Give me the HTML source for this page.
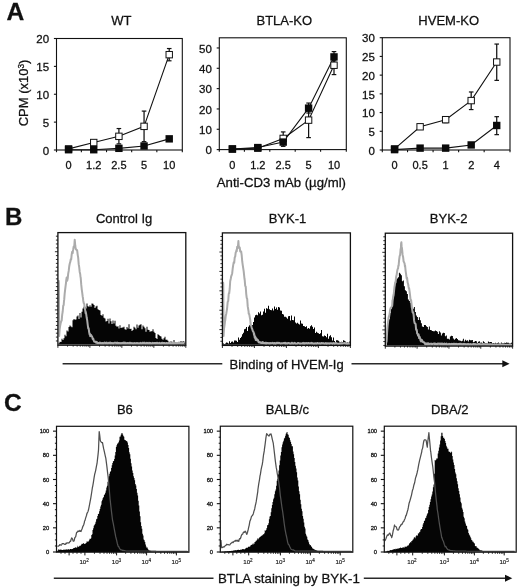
<!DOCTYPE html>
<html><head><meta charset="utf-8"><style>
html,body{margin:0;padding:0;background:#fff;}
svg{display:block;font-family:"Liberation Sans", sans-serif;filter:blur(0.3px);}
text{stroke:#111;stroke-width:0.28px;}
</style></head><body>
<svg width="520" height="588" viewBox="0 0 520 588">
<rect width="520" height="588" fill="#fff"/>
<rect x="56.5" y="38.5" width="125.8" height="111.5" fill="none" stroke="#111" stroke-width="1.1"/>
<line x1="53.9" y1="150" x2="56.5" y2="150" stroke="#111" stroke-width="1.1"/>
<text x="49.1" y="154.7" font-size="11.5" text-anchor="end" font-weight="normal" fill="#111" >0</text>
<line x1="53.9" y1="122.12" x2="56.5" y2="122.12" stroke="#111" stroke-width="1.1"/>
<text x="49.1" y="126.83" font-size="11.5" text-anchor="end" font-weight="normal" fill="#111" >5</text>
<line x1="53.9" y1="94.25" x2="56.5" y2="94.25" stroke="#111" stroke-width="1.1"/>
<text x="49.1" y="98.95" font-size="11.5" text-anchor="end" font-weight="normal" fill="#111" >10</text>
<line x1="53.9" y1="66.38" x2="56.5" y2="66.38" stroke="#111" stroke-width="1.1"/>
<text x="49.1" y="71.08" font-size="11.5" text-anchor="end" font-weight="normal" fill="#111" >15</text>
<line x1="53.9" y1="38.5" x2="56.5" y2="38.5" stroke="#111" stroke-width="1.1"/>
<text x="49.1" y="43.2" font-size="11.5" text-anchor="end" font-weight="normal" fill="#111" >20</text>
<line x1="56.5" y1="150" x2="56.5" y2="152.2" stroke="#111" stroke-width="1.1"/>
<line x1="81.36" y1="150" x2="81.36" y2="152.2" stroke="#111" stroke-width="1.1"/>
<line x1="106.52" y1="150" x2="106.52" y2="152.2" stroke="#111" stroke-width="1.1"/>
<line x1="131.68" y1="150" x2="131.68" y2="152.2" stroke="#111" stroke-width="1.1"/>
<line x1="156.84" y1="150" x2="156.84" y2="152.2" stroke="#111" stroke-width="1.1"/>
<line x1="182.3" y1="150" x2="182.3" y2="152.2" stroke="#111" stroke-width="1.1"/>
<text x="68.58" y="168.5" font-size="11" text-anchor="middle" font-weight="normal" fill="#111" >0</text>
<text x="93.74" y="168.5" font-size="11" text-anchor="middle" font-weight="normal" fill="#111" >1.2</text>
<text x="118.9" y="168.5" font-size="11" text-anchor="middle" font-weight="normal" fill="#111" >2.5</text>
<text x="144.06" y="168.5" font-size="11" text-anchor="middle" font-weight="normal" fill="#111" >5</text>
<text x="169.22" y="168.5" font-size="11" text-anchor="middle" font-weight="normal" fill="#111" >10</text>
<line x1="118.9" y1="143.87" x2="118.9" y2="128.54" stroke="#111" stroke-width="1.25"/>
<line x1="116.6" y1="128.54" x2="121.2" y2="128.54" stroke="#111" stroke-width="1.2"/>
<line x1="116.6" y1="143.87" x2="121.2" y2="143.87" stroke="#111" stroke-width="1.2"/>
<line x1="144.06" y1="141.64" x2="144.06" y2="111.09" stroke="#111" stroke-width="1.25"/>
<line x1="141.76" y1="111.09" x2="146.36" y2="111.09" stroke="#111" stroke-width="1.2"/>
<line x1="141.76" y1="141.64" x2="146.36" y2="141.64" stroke="#111" stroke-width="1.2"/>
<line x1="169.22" y1="60.8" x2="169.22" y2="48.53" stroke="#111" stroke-width="1.25"/>
<line x1="166.92" y1="48.53" x2="171.52" y2="48.53" stroke="#111" stroke-width="1.2"/>
<line x1="166.92" y1="60.8" x2="171.52" y2="60.8" stroke="#111" stroke-width="1.2"/>
<polyline points="68.58,148.88 93.74,142.53 118.9,136.34 144.06,126.36 169.22,54.67" fill="none" stroke="#111" stroke-width="1.1"/>
<polyline points="68.58,149.72 93.74,149.72 118.9,148.33 144.06,145.99 169.22,138.85" fill="none" stroke="#111" stroke-width="1.1"/>
<rect x="65.38" y="145.69" width="6.4" height="6.4" fill="#fff" stroke="#111" stroke-width="1"/>
<rect x="90.54" y="139.33" width="6.4" height="6.4" fill="#fff" stroke="#111" stroke-width="1"/>
<rect x="115.7" y="133.14" width="6.4" height="6.4" fill="#fff" stroke="#111" stroke-width="1"/>
<rect x="140.86" y="123.16" width="6.4" height="6.4" fill="#fff" stroke="#111" stroke-width="1"/>
<rect x="166.02" y="51.47" width="6.4" height="6.4" fill="#fff" stroke="#111" stroke-width="1"/>
<rect x="64.88" y="146.02" width="7.4" height="7.4" fill="#0a0a0a"/>
<rect x="90.04" y="146.02" width="7.4" height="7.4" fill="#0a0a0a"/>
<rect x="115.2" y="144.63" width="7.4" height="7.4" fill="#0a0a0a"/>
<rect x="140.36" y="142.29" width="7.4" height="7.4" fill="#0a0a0a"/>
<rect x="165.52" y="135.15" width="7.4" height="7.4" fill="#0a0a0a"/>
<text x="121.4" y="24.9" font-size="13" text-anchor="middle" font-weight="normal" fill="#111" >WT</text>
<rect x="219.3" y="37.8" width="127" height="111.8" fill="none" stroke="#111" stroke-width="1.1"/>
<line x1="216.7" y1="149.6" x2="219.3" y2="149.6" stroke="#111" stroke-width="1.1"/>
<text x="211.9" y="154.3" font-size="11.5" text-anchor="end" font-weight="normal" fill="#111" >0</text>
<line x1="216.7" y1="129.27" x2="219.3" y2="129.27" stroke="#111" stroke-width="1.1"/>
<text x="211.9" y="133.97" font-size="11.5" text-anchor="end" font-weight="normal" fill="#111" >10</text>
<line x1="216.7" y1="108.95" x2="219.3" y2="108.95" stroke="#111" stroke-width="1.1"/>
<text x="211.9" y="113.65" font-size="11.5" text-anchor="end" font-weight="normal" fill="#111" >20</text>
<line x1="216.7" y1="88.62" x2="219.3" y2="88.62" stroke="#111" stroke-width="1.1"/>
<text x="211.9" y="93.32" font-size="11.5" text-anchor="end" font-weight="normal" fill="#111" >30</text>
<line x1="216.7" y1="68.29" x2="219.3" y2="68.29" stroke="#111" stroke-width="1.1"/>
<text x="211.9" y="72.99" font-size="11.5" text-anchor="end" font-weight="normal" fill="#111" >40</text>
<line x1="216.7" y1="47.96" x2="219.3" y2="47.96" stroke="#111" stroke-width="1.1"/>
<text x="211.9" y="52.66" font-size="11.5" text-anchor="end" font-weight="normal" fill="#111" >50</text>
<line x1="219.3" y1="149.6" x2="219.3" y2="151.8" stroke="#111" stroke-width="1.1"/>
<line x1="244.4" y1="149.6" x2="244.4" y2="151.8" stroke="#111" stroke-width="1.1"/>
<line x1="269.8" y1="149.6" x2="269.8" y2="151.8" stroke="#111" stroke-width="1.1"/>
<line x1="295.2" y1="149.6" x2="295.2" y2="151.8" stroke="#111" stroke-width="1.1"/>
<line x1="320.6" y1="149.6" x2="320.6" y2="151.8" stroke="#111" stroke-width="1.1"/>
<line x1="346.3" y1="149.6" x2="346.3" y2="151.8" stroke="#111" stroke-width="1.1"/>
<text x="232.4" y="168.5" font-size="11" text-anchor="middle" font-weight="normal" fill="#111" >0</text>
<text x="257.8" y="168.5" font-size="11" text-anchor="middle" font-weight="normal" fill="#111" >1.2</text>
<text x="283.2" y="168.5" font-size="11" text-anchor="middle" font-weight="normal" fill="#111" >2.5</text>
<text x="308.6" y="168.5" font-size="11" text-anchor="middle" font-weight="normal" fill="#111" >5</text>
<text x="334" y="168.5" font-size="11" text-anchor="middle" font-weight="normal" fill="#111" >10</text>
<line x1="283.2" y1="144.52" x2="283.2" y2="131.92" stroke="#111" stroke-width="1.25"/>
<line x1="280.9" y1="131.92" x2="285.5" y2="131.92" stroke="#111" stroke-width="1.2"/>
<line x1="280.9" y1="144.52" x2="285.5" y2="144.52" stroke="#111" stroke-width="1.2"/>
<line x1="308.6" y1="137.61" x2="308.6" y2="110.98" stroke="#111" stroke-width="1.25"/>
<line x1="306.3" y1="110.98" x2="310.9" y2="110.98" stroke="#111" stroke-width="1.2"/>
<line x1="306.3" y1="137.61" x2="310.9" y2="137.61" stroke="#111" stroke-width="1.2"/>
<line x1="334" y1="74.59" x2="334" y2="60.16" stroke="#111" stroke-width="1.25"/>
<line x1="331.7" y1="60.16" x2="336.3" y2="60.16" stroke="#111" stroke-width="1.2"/>
<line x1="331.7" y1="74.59" x2="336.3" y2="74.59" stroke="#111" stroke-width="1.2"/>
<line x1="283.2" y1="146.35" x2="283.2" y2="139.44" stroke="#111" stroke-width="1.25"/>
<line x1="280.9" y1="139.44" x2="285.5" y2="139.44" stroke="#111" stroke-width="1.2"/>
<line x1="280.9" y1="146.35" x2="285.5" y2="146.35" stroke="#111" stroke-width="1.2"/>
<line x1="308.6" y1="113.01" x2="308.6" y2="103.05" stroke="#111" stroke-width="1.25"/>
<line x1="306.3" y1="103.05" x2="310.9" y2="103.05" stroke="#111" stroke-width="1.2"/>
<line x1="306.3" y1="113.01" x2="310.9" y2="113.01" stroke="#111" stroke-width="1.2"/>
<line x1="334" y1="62.19" x2="334" y2="51.62" stroke="#111" stroke-width="1.25"/>
<line x1="331.7" y1="51.62" x2="336.3" y2="51.62" stroke="#111" stroke-width="1.2"/>
<line x1="331.7" y1="62.19" x2="336.3" y2="62.19" stroke="#111" stroke-width="1.2"/>
<polyline points="232.4,148.99 257.8,148.18 283.2,138.42 308.6,120.13 334,65.24" fill="none" stroke="#111" stroke-width="1.1"/>
<polyline points="232.4,148.99 257.8,147.57 283.2,142.08 308.6,108.13 334,56.91" fill="none" stroke="#111" stroke-width="1.1"/>
<rect x="229.2" y="145.79" width="6.4" height="6.4" fill="#fff" stroke="#111" stroke-width="1"/>
<rect x="254.6" y="144.98" width="6.4" height="6.4" fill="#fff" stroke="#111" stroke-width="1"/>
<rect x="280" y="135.22" width="6.4" height="6.4" fill="#fff" stroke="#111" stroke-width="1"/>
<rect x="305.4" y="116.93" width="6.4" height="6.4" fill="#fff" stroke="#111" stroke-width="1"/>
<rect x="330.8" y="62.04" width="6.4" height="6.4" fill="#fff" stroke="#111" stroke-width="1"/>
<rect x="228.7" y="145.29" width="7.4" height="7.4" fill="#0a0a0a"/>
<rect x="254.1" y="143.87" width="7.4" height="7.4" fill="#0a0a0a"/>
<rect x="279.5" y="138.38" width="7.4" height="7.4" fill="#0a0a0a"/>
<rect x="304.9" y="104.43" width="7.4" height="7.4" fill="#0a0a0a"/>
<rect x="330.3" y="53.21" width="7.4" height="7.4" fill="#0a0a0a"/>
<text x="284.3" y="24.9" font-size="13" text-anchor="middle" font-weight="normal" fill="#111" >BTLA-KO</text>
<rect x="382.3" y="37.7" width="127.7" height="112.3" fill="none" stroke="#111" stroke-width="1.1"/>
<line x1="379.7" y1="150" x2="382.3" y2="150" stroke="#111" stroke-width="1.1"/>
<text x="374.9" y="154.7" font-size="11.5" text-anchor="end" font-weight="normal" fill="#111" >0</text>
<line x1="379.7" y1="131.28" x2="382.3" y2="131.28" stroke="#111" stroke-width="1.1"/>
<text x="374.9" y="135.98" font-size="11.5" text-anchor="end" font-weight="normal" fill="#111" >5</text>
<line x1="379.7" y1="112.57" x2="382.3" y2="112.57" stroke="#111" stroke-width="1.1"/>
<text x="374.9" y="117.27" font-size="11.5" text-anchor="end" font-weight="normal" fill="#111" >10</text>
<line x1="379.7" y1="93.85" x2="382.3" y2="93.85" stroke="#111" stroke-width="1.1"/>
<text x="374.9" y="98.55" font-size="11.5" text-anchor="end" font-weight="normal" fill="#111" >15</text>
<line x1="379.7" y1="75.13" x2="382.3" y2="75.13" stroke="#111" stroke-width="1.1"/>
<text x="374.9" y="79.83" font-size="11.5" text-anchor="end" font-weight="normal" fill="#111" >20</text>
<line x1="379.7" y1="56.42" x2="382.3" y2="56.42" stroke="#111" stroke-width="1.1"/>
<text x="374.9" y="61.12" font-size="11.5" text-anchor="end" font-weight="normal" fill="#111" >25</text>
<line x1="379.7" y1="37.7" x2="382.3" y2="37.7" stroke="#111" stroke-width="1.1"/>
<text x="374.9" y="42.4" font-size="11.5" text-anchor="end" font-weight="normal" fill="#111" >30</text>
<line x1="382.3" y1="150" x2="382.3" y2="152.2" stroke="#111" stroke-width="1.1"/>
<line x1="407.54" y1="150" x2="407.54" y2="152.2" stroke="#111" stroke-width="1.1"/>
<line x1="433.08" y1="150" x2="433.08" y2="152.2" stroke="#111" stroke-width="1.1"/>
<line x1="458.62" y1="150" x2="458.62" y2="152.2" stroke="#111" stroke-width="1.1"/>
<line x1="484.16" y1="150" x2="484.16" y2="152.2" stroke="#111" stroke-width="1.1"/>
<line x1="510" y1="150" x2="510" y2="152.2" stroke="#111" stroke-width="1.1"/>
<text x="394.57" y="168.5" font-size="11" text-anchor="middle" font-weight="normal" fill="#111" >0</text>
<text x="420.11" y="168.5" font-size="11" text-anchor="middle" font-weight="normal" fill="#111" >0.5</text>
<text x="445.65" y="168.5" font-size="11" text-anchor="middle" font-weight="normal" fill="#111" >1</text>
<text x="471.19" y="168.5" font-size="11" text-anchor="middle" font-weight="normal" fill="#111" >2</text>
<text x="496.73" y="168.5" font-size="11" text-anchor="middle" font-weight="normal" fill="#111" >4</text>
<line x1="445.65" y1="122.67" x2="445.65" y2="116.68" stroke="#111" stroke-width="1.25"/>
<line x1="443.35" y1="116.68" x2="447.95" y2="116.68" stroke="#111" stroke-width="1.2"/>
<line x1="443.35" y1="122.67" x2="447.95" y2="122.67" stroke="#111" stroke-width="1.2"/>
<line x1="471.19" y1="109.57" x2="471.19" y2="91.98" stroke="#111" stroke-width="1.25"/>
<line x1="468.89" y1="91.98" x2="473.49" y2="91.98" stroke="#111" stroke-width="1.2"/>
<line x1="468.89" y1="109.57" x2="473.49" y2="109.57" stroke="#111" stroke-width="1.2"/>
<line x1="496.73" y1="80.37" x2="496.73" y2="44.06" stroke="#111" stroke-width="1.25"/>
<line x1="494.43" y1="44.06" x2="499.03" y2="44.06" stroke="#111" stroke-width="1.2"/>
<line x1="494.43" y1="80.37" x2="499.03" y2="80.37" stroke="#111" stroke-width="1.2"/>
<line x1="496.73" y1="134.65" x2="496.73" y2="116.68" stroke="#111" stroke-width="1.25"/>
<line x1="494.43" y1="116.68" x2="499.03" y2="116.68" stroke="#111" stroke-width="1.2"/>
<line x1="494.43" y1="134.65" x2="499.03" y2="134.65" stroke="#111" stroke-width="1.2"/>
<polyline points="394.57,148.88 420.11,126.79 445.65,119.68 471.19,100.59 496.73,62.03" fill="none" stroke="#111" stroke-width="1.1"/>
<polyline points="394.57,149.63 420.11,148.13 445.65,148.13 471.19,144.95 496.73,125.48" fill="none" stroke="#111" stroke-width="1.1"/>
<rect x="391.37" y="145.68" width="6.4" height="6.4" fill="#fff" stroke="#111" stroke-width="1"/>
<rect x="416.91" y="123.59" width="6.4" height="6.4" fill="#fff" stroke="#111" stroke-width="1"/>
<rect x="442.45" y="116.48" width="6.4" height="6.4" fill="#fff" stroke="#111" stroke-width="1"/>
<rect x="467.99" y="97.39" width="6.4" height="6.4" fill="#fff" stroke="#111" stroke-width="1"/>
<rect x="493.53" y="58.83" width="6.4" height="6.4" fill="#fff" stroke="#111" stroke-width="1"/>
<rect x="390.87" y="145.93" width="7.4" height="7.4" fill="#0a0a0a"/>
<rect x="416.41" y="144.43" width="7.4" height="7.4" fill="#0a0a0a"/>
<rect x="441.95" y="144.43" width="7.4" height="7.4" fill="#0a0a0a"/>
<rect x="467.49" y="141.25" width="7.4" height="7.4" fill="#0a0a0a"/>
<rect x="493.03" y="121.78" width="7.4" height="7.4" fill="#0a0a0a"/>
<text x="448.7" y="24.9" font-size="13" text-anchor="middle" font-weight="normal" fill="#111" >HVEM-KO</text>
<text transform="translate(27.5,93) rotate(-90)" font-size="13" text-anchor="middle" fill="#111">CPM (x10<tspan font-size="8.2" dy="-3.6">3</tspan><tspan dy="3.6">)</tspan></text>
<text x="281.4" y="186.6" font-size="13.2" text-anchor="middle" font-weight="normal" fill="#111" >Anti-CD3 mAb (µg/ml)</text>
<text x="6.4" y="19.7" font-size="24.6" text-anchor="start" font-weight="bold" fill="#111" >A</text>
<text x="5" y="225.2" font-size="24" text-anchor="start" font-weight="bold" fill="#111" >B</text>
<text x="4" y="411.3" font-size="24.5" text-anchor="start" font-weight="bold" fill="#111" >C</text>
<path d="M58.5,344.6 L58.5,343.27 L59.5,343.27 L59.5,341.73 L60.5,341.73 L60.5,342.1 L61.5,342.1 L61.5,338.71 L62.5,338.71 L62.5,340.07 L63.5,340.07 L63.5,338.25 L64.5,338.25 L64.5,334.84 L65.5,334.84 L65.5,336.24 L66.5,336.24 L66.5,330.52 L67.5,330.52 L67.5,331.44 L68.5,331.44 L68.5,326.96 L69.5,326.96 L69.5,325.62 L70.5,325.62 L70.5,326.59 L71.5,326.59 L71.5,327.14 L72.5,327.14 L72.5,320.35 L73.5,320.35 L73.5,319.04 L74.5,319.04 L74.5,319.66 L75.5,319.66 L75.5,319.44 L76.5,319.44 L76.5,316.48 L77.5,316.48 L77.5,315.44 L78.5,315.44 L78.5,319.08 L79.5,319.08 L79.5,312.94 L80.5,312.94 L80.5,317.52 L81.5,317.52 L81.5,311.77 L82.5,311.77 L82.5,308.5 L83.5,308.5 L83.5,306.75 L84.5,306.75 L84.5,306.76 L85.5,306.76 L85.5,308.52 L86.5,308.52 L86.5,303.45 L87.5,303.45 L87.5,306.14 L88.5,306.14 L88.5,306.77 L89.5,306.77 L89.5,305.33 L90.5,305.33 L90.5,306.75 L91.5,306.75 L91.5,303.47 L92.5,303.47 L92.5,303.63 L93.5,303.63 L93.5,304.88 L94.5,304.88 L94.5,308.04 L95.5,308.04 L95.5,306.45 L96.5,306.45 L96.5,305.83 L97.5,305.83 L97.5,309.18 L98.5,309.18 L98.5,309.89 L99.5,309.89 L99.5,310.4 L100.5,310.4 L100.5,315.11 L101.5,315.11 L101.5,315.87 L102.5,315.87 L102.5,314.14 L103.5,314.14 L103.5,317.63 L104.5,317.63 L104.5,318.58 L105.5,318.58 L105.5,321.48 L106.5,321.48 L106.5,321.1 L107.5,321.1 L107.5,318.72 L108.5,318.72 L108.5,323.5 L109.5,323.5 L109.5,318.42 L110.5,318.42 L110.5,321.26 L111.5,321.26 L111.5,324 L112.5,324 L112.5,320.57 L113.5,320.57 L113.5,323.59 L114.5,323.59 L114.5,320.77 L115.5,320.77 L115.5,325.79 L116.5,325.79 L116.5,326.84 L117.5,326.84 L117.5,326.15 L118.5,326.15 L118.5,328.43 L119.5,328.43 L119.5,325.37 L120.5,325.37 L120.5,328 L121.5,328 L121.5,327.47 L122.5,327.47 L122.5,327.46 L123.5,327.46 L123.5,326.75 L124.5,326.75 L124.5,329.18 L125.5,329.18 L125.5,329.87 L126.5,329.87 L126.5,327.11 L127.5,327.11 L127.5,328.39 L128.5,328.39 L128.5,324.19 L129.5,324.19 L129.5,328.88 L130.5,328.88 L130.5,328.71 L131.5,328.71 L131.5,330.89 L132.5,330.89 L132.5,330.07 L133.5,330.07 L133.5,326.8 L134.5,326.8 L134.5,327.67 L135.5,327.67 L135.5,329.31 L136.5,329.31 L136.5,324.42 L137.5,324.42 L137.5,327.7 L138.5,327.7 L138.5,325.45 L139.5,325.45 L139.5,324.87 L140.5,324.87 L140.5,324.17 L141.5,324.17 L141.5,329.36 L142.5,329.36 L142.5,325.48 L143.5,325.48 L143.5,326.83 L144.5,326.83 L144.5,328.26 L145.5,328.26 L145.5,331.65 L146.5,331.65 L146.5,326.74 L147.5,326.74 L147.5,329.7 L148.5,329.7 L148.5,330.06 L149.5,330.06 L149.5,331.78 L150.5,331.78 L150.5,331.13 L151.5,331.13 L151.5,331.29 L152.5,331.29 L152.5,329.21 L153.5,329.21 L153.5,331.78 L154.5,331.78 L154.5,333.03 L155.5,333.03 L155.5,337.92 L156.5,337.92 L156.5,339.06 L157.5,339.06 L157.5,334.34 L158.5,334.34 L158.5,335.05 L159.5,335.05 L159.5,335.97 L160.5,335.97 L160.5,336.49 L161.5,336.49 L161.5,338.66 L162.5,338.66 L162.5,339.64 L163.5,339.64 L163.5,338.15 L164.5,338.15 L164.5,336.75 L165.5,336.75 L165.5,339.69 L166.5,339.69 L166.5,339.73 L167.5,339.73 L167.5,340.86 L168.5,340.86 L168.5,342.52 L169.5,342.52 L169.5,341.77 L170.5,341.77 L170.5,341.39 L171.5,341.39 L171.5,341.81 L172.5,341.81 L172.5,342.07 L173.5,342.07 L173.5,339.96 L174.5,339.96 L174.5,342.85 L175.5,342.85 L175.5,342.58 L176.5,342.58 L176.5,342.89 L177.5,342.89 L177.5,342.76 L178.5,342.76 L178.5,341.76 L179.5,341.76 L179.5,341.88 L180.5,341.88 L180.5,341.11 L181.5,341.11 L181.5,342.64 L182.5,342.64 L182.5,341.23 L183.5,341.23 L183.5,341.38 L184.5,341.38 L184.5,341.91 L185.2,341.91 L185.2,344.6 Z" fill="#050505"/>
<path d="M58.5,281.5 L58.7,280.9 L58.9,283 L59.2,336 L59.6,330 L59.7,328.91 L60.2,325.5 L60.7,323.02 L61.2,321.37 L61.7,320.5 L62.2,314.67 L62.7,311.48 L63.2,305.88 L63.7,305.04 L64,301 L64.2,299.66 L64.7,293.29 L65.2,289.21 L65.7,285.09 L66,283 L66.2,280.7 L66.5,278.6 L66.7,277.56 L67.1,280 L67.2,280.83 L67.7,278.6 L68.2,273.68 L68.7,270.94 L69.2,266.53 L69.7,263.78 L70.2,261.93 L70.3,262 L70.7,259.28 L71.2,259.32 L71.7,254.42 L72.2,251.65 L72.7,253.14 L73,250 L73.2,249.5 L73.7,246.43 L74.2,246.48 L74.3,246 L74.7,239.71 L74.8,240.5 L75.2,245.01 L75.3,246 L75.7,248.86 L76.2,249.57 L76.7,250.08 L77,250 L77.2,250.59 L77.7,254.87 L78.2,257.93 L78.7,264.2 L79.2,267.1 L79.7,271.94 L80.2,274 L80.5,277 L80.7,277.57 L81.2,284.13 L81.7,289.02 L82.2,292.69 L82.7,296.7 L83,298 L83.2,300.43 L83.7,303 L84.2,303.83 L84.7,307.88 L85.2,310.11 L85.6,313 L85.7,311.63 L86.2,314.22 L86.7,317.81 L87.2,320.31 L87.7,324.63 L88.2,328.27 L88.5,328 L88.7,328.59 L89.2,332.55 L89.7,334.75 L90,334 L90.2,336.19 L90.7,334.75 L91.2,335.1 L91.7,336.06 L92.2,336.86 L92.7,339 L93.2,338.49 L93.7,340.38 L94.2,341.59 L94.7,341.82 L95.2,341.46 L95.7,342.27 L96,342.3 L96.2,342.79 L96.7,341.82 L97.2,342.73 L97.7,343.14 L98.2,343.05 L98.7,343.08 L99.2,342.83 L99.7,342.59 L100,343 L100.2,343.31 L100.7,342.82 L101.2,343.32 L101.7,343.51 L102.2,342.9 L102.7,342.9 L103.2,343.48 L103.7,343.25 L104.2,342.67 L104.7,342.62 L105.2,342.65 L105.7,343.45 L106.2,343.34 L106.7,342.65 L107.2,343.37 L107.7,343.53 L108.2,343.19 L108.7,342.87 L109.2,343.08 L109.7,342.65 L110.2,342.53 L110.7,343.53 L111.2,343.2 L111.7,343.07 L112.2,343.49 L112.7,342.98 L113.2,343.43 L113.7,343.39 L114.2,342.75 L114.7,342.8 L115.2,342.84 L115.7,342.79 L116.2,343.15 L116.7,342.81 L117.2,342.98 L117.7,342.68 L118.2,343.48 L118.7,342.92 L119.2,343.02 L119.7,343.15 L120.2,343.48 L120.7,342.99 L121.2,343.5 L121.7,343.08 L122.2,343.11 L122.7,343.1 L123.2,342.59 L123.7,343.02 L124.2,342.76 L124.7,342.59 L125.2,343.39 L125.7,342.76 L126.2,343.07 L126.7,343.32 L127.2,343.15 L127.7,342.92 L128.2,343.12 L128.7,343.16 L129.2,343.39 L129.7,342.71 L130.2,343.17 L130.7,342.86 L131.2,342.89 L131.7,343.38 L132.2,343.12 L132.7,343.18 L133.2,343.37 L133.7,343.53 L134.2,343.06 L134.7,343.23 L135.2,343.13 L135.7,343.14 L136.2,343.32 L136.7,343.08 L137.2,343.16 L137.7,343.11 L138.2,343.57 L138.7,343.33 L139.2,343.5 L139.7,343.57 L140.2,342.91 L140.7,343.2 L141.2,343.57 L141.7,343.48 L142.2,342.8 L142.7,342.78 L143.2,343.1 L143.7,342.74 L144.2,342.91 L144.7,342.75 L145.2,343.32 L145.7,343.43 L146.2,343.54 L146.7,342.83 L147.2,343.37 L147.7,343.32 L148.2,342.83 L148.7,343.54 L149.2,343.62 L149.7,342.91 L150.2,343.61 L150.7,343.08 L151.2,343.17 L151.7,343.64 L152.2,343.5 L152.7,342.87 L153.2,343.12 L153.7,343.2 L154.2,343.04 L154.7,342.91 L155.2,343.02 L155.7,343.4 L156.2,342.75 L156.7,343.25 L157.2,343.15 L157.7,342.75 L158.2,343.05 L158.7,343.32 L159.2,343.22 L159.7,342.81 L160.2,343.66 L160.7,343.48 L161.2,343.65 L161.7,342.85 L162.2,343 L162.7,342.8 L163.2,343.48 L163.7,343.01 L164.2,342.89 L164.7,343.16 L165.2,343.6 L165.7,343.52 L166.2,343.01 L166.7,342.91 L167.2,343.62 L167.7,343.3 L168.2,343.42 L168.7,342.87 L169.2,342.84 L169.7,343.41 L170.2,343.18 L170.7,342.86 L171.2,343.64 L171.7,343.37 L172.2,343.52 L172.7,342.88 L173.2,343.58 L173.7,342.87 L174.2,343.58 L174.7,343.22 L175.2,343.12 L175.7,343.31 L176.2,343.65 L176.7,343.06 L177.2,342.94 L177.7,343.3 L178.2,343.04 L178.7,342.93 L179.2,342.98 L179.7,342.88 L180.2,343.02 L180.7,343.12 L181.2,343.11 L181.7,343.51 L182.2,343.1 L182.7,343.29 L183.2,343.01 L183.7,343.16 L184.2,342.88 L184.7,343.08" fill="none" stroke="#ababab" stroke-width="2.0" stroke-linejoin="round"/>
<path d="M223,344.8 L223,343.39 L224,343.39 L224,343.93 L225,343.93 L225,343.48 L226,343.48 L226,342.57 L227,342.57 L227,342.85 L228,342.85 L228,343.57 L229,343.57 L229,341.26 L230,341.26 L230,342.99 L231,342.99 L231,341.67 L232,341.67 L232,341.59 L233,341.59 L233,342.42 L234,342.42 L234,340.39 L235,340.39 L235,340.5 L236,340.5 L236,340.87 L237,340.87 L237,341.91 L238,341.91 L238,337.62 L239,337.62 L239,339.84 L240,339.84 L240,338.1 L241,338.1 L241,336.67 L242,336.67 L242,334.19 L243,334.19 L243,332.71 L244,332.71 L244,329.18 L245,329.18 L245,328.67 L246,328.67 L246,327.1 L247,327.1 L247,330.88 L248,330.88 L248,326.84 L249,326.84 L249,325.25 L250,325.25 L250,323.49 L251,323.49 L251,326.73 L252,326.73 L252,325.01 L253,325.01 L253,321.95 L254,321.95 L254,317.52 L255,317.52 L255,315.34 L256,315.34 L256,314.82 L257,314.82 L257,315.16 L258,315.16 L258,312.22 L259,312.22 L259,313.5 L260,313.5 L260,311.55 L261,311.55 L261,315.27 L262,315.27 L262,314.67 L263,314.67 L263,311.49 L264,311.49 L264,308.78 L265,308.78 L265,312.67 L266,312.67 L266,308.19 L267,308.19 L267,308.69 L268,308.69 L268,305.83 L269,305.83 L269,309.22 L270,309.22 L270,310.01 L271,310.01 L271,310.36 L272,310.36 L272,308.44 L273,308.44 L273,310.55 L274,310.55 L274,306.6 L275,306.6 L275,308.91 L276,308.91 L276,307.52 L277,307.52 L277,309.86 L278,309.86 L278,307.05 L279,307.05 L279,307.41 L280,307.41 L280,310.58 L281,310.58 L281,310.87 L282,310.87 L282,314.07 L283,314.07 L283,314.53 L284,314.53 L284,316.7 L285,316.7 L285,316.81 L286,316.81 L286,317.51 L287,317.51 L287,318.82 L288,318.82 L288,316.14 L289,316.14 L289,316.06 L290,316.06 L290,320.47 L291,320.47 L291,315.43 L292,315.43 L292,319.96 L293,319.96 L293,320.13 L294,320.13 L294,316.44 L295,316.44 L295,322.59 L296,322.59 L296,323.57 L297,323.57 L297,322.66 L298,322.66 L298,323.76 L299,323.76 L299,324.56 L300,324.56 L300,320.41 L301,320.41 L301,323.47 L302,323.47 L302,323.68 L303,323.68 L303,326.03 L304,326.03 L304,326.27 L305,326.27 L305,327.02 L306,327.02 L306,326.19 L307,326.19 L307,328.65 L308,328.65 L308,328.04 L309,328.04 L309,328.73 L310,328.73 L310,326.29 L311,326.29 L311,325.19 L312,325.19 L312,326.77 L313,326.77 L313,328.99 L314,328.99 L314,327.54 L315,327.54 L315,332.95 L316,332.95 L316,331.77 L317,331.77 L317,332.69 L318,332.69 L318,333.18 L319,333.18 L319,334.01 L320,334.01 L320,333.31 L321,333.31 L321,329.92 L322,329.92 L322,336.19 L323,336.19 L323,336.4 L324,336.4 L324,335.39 L325,335.39 L325,336.1 L326,336.1 L326,337.37 L327,337.37 L327,333.65 L328,333.65 L328,338.83 L329,338.83 L329,336.18 L330,336.18 L330,335.16 L331,335.16 L331,337.13 L332,337.13 L332,340.39 L333,340.39 L333,337.54 L334,337.54 L334,340.93 L335,340.93 L335,342.25 L336,342.25 L336,340.3 L337,340.3 L337,340.13 L338,340.13 L338,340.83 L339,340.83 L339,341.8 L340,341.8 L340,342.23 L341,342.23 L341,341.87 L342,341.87 L342,342.11 L343,342.11 L343,340.3 L344,340.3 L344,340.85 L345,340.85 L345,341.46 L346,341.46 L346,342.97 L347,342.97 L347,342 L348,342 L348,342.78 L349,342.78 L349,341.48 L349.8,341.48 L349.8,344.8 Z" fill="#050505"/>
<path d="M223,283.5 L223.2,282.74 L223.3,285 L223.6,336 L223.7,333.4 L224.1,327.6 L224.2,327.58 L224.7,324.11 L225.1,320.5 L225.2,320.61 L225.7,316.1 L226.2,314.03 L226.7,310.85 L226.9,309.8 L227.2,307.27 L227.7,301.87 L228.2,300.97 L228.7,294.2 L229,293 L229.2,293.27 L229.7,288.98 L230.2,281.19 L230.7,279 L231.2,276.26 L231.7,275.13 L232.2,273.15 L232.7,268.49 L233.2,265.2 L233.7,262.38 L234,262 L234.2,262.82 L234.7,257.48 L235.2,256.57 L235.7,252.41 L236.2,251.54 L236.5,250 L236.7,251.28 L237.2,246.66 L237.7,248.08 L238,246 L238.2,243.53 L238.4,241 L238.7,246.3 L238.8,246 L239.2,247.9 L239.7,247.38 L240.2,251.41 L240.7,251.13 L241,252 L241.2,251.64 L241.7,255.41 L242.2,261.22 L242.7,264.92 L243.2,268.18 L243.7,271.39 L244.2,276.06 L244.5,279 L244.7,279.85 L245.2,285.93 L245.7,286.55 L246.2,293.52 L246.7,297.85 L247.2,298.95 L247.7,306.15 L248.2,309.27 L248.6,311.6 L248.7,313.74 L249.2,313.93 L249.7,316.91 L250.2,319.64 L250.7,324.7 L251.2,325.71 L251.7,328 L252.2,328.96 L252.7,330.76 L253.2,331.67 L253.7,332.28 L254,335 L254.2,333.78 L254.7,337.64 L255.2,336.37 L255.7,339.9 L256.2,338.13 L256.7,339.27 L256.8,340.2 L257.2,340.46 L257.7,339.86 L258.2,340.67 L258.7,342.34 L259.2,342.38 L259.7,342.45 L260,342 L260.2,342.29 L260.7,342.89 L261.2,343.03 L261.7,342.49 L262.2,342.86 L262.7,342 L263.2,343.08 L263.7,342.83 L264.2,343.31 L264.7,343.29 L265,343.2 L265.2,342.97 L265.7,342.72 L266.2,343.66 L266.7,342.81 L267.2,343.18 L267.7,343.04 L268.2,343 L268.7,343.47 L269.2,343.72 L269.7,342.96 L270.2,343.38 L270.7,343.01 L271.2,343.28 L271.7,343.11 L272.2,342.88 L272.7,342.87 L273.2,342.92 L273.7,343.66 L274.2,343.23 L274.7,342.94 L275.2,343.66 L275.7,343.75 L276.2,343.19 L276.7,342.87 L277.2,342.92 L277.7,342.82 L278.2,343.08 L278.7,342.83 L279.2,342.98 L279.7,343 L280.2,343.33 L280.7,343.65 L281.2,343.51 L281.7,343.17 L282.2,343.17 L282.7,343.29 L283.2,343.14 L283.7,343.1 L284.2,342.82 L284.7,343.04 L285.2,343.75 L285.7,342.89 L286.2,343.28 L286.7,343.41 L287.2,343.65 L287.7,342.99 L288.2,343.05 L288.7,343.03 L289.2,343.18 L289.7,343.23 L290.2,343.75 L290.7,343.64 L291.2,343.67 L291.7,342.81 L292.2,342.83 L292.7,343.51 L293.2,343.7 L293.7,343.27 L294.2,343.39 L294.7,342.81 L295.2,343.2 L295.7,343.73 L296.2,343.63 L296.7,343.66 L297.2,343.78 L297.7,343.07 L298.2,342.93 L298.7,342.98 L299.2,343.34 L299.7,343.5 L300.2,343.76 L300.7,343.54 L301.2,343.47 L301.7,343.59 L302.2,343.29 L302.7,343.38 L303.2,342.89 L303.7,343.61 L304.2,343.08 L304.7,343.75 L305.2,343.48 L305.7,343.15 L306.2,342.98 L306.7,343.11 L307.2,343.48 L307.7,343.54 L308.2,342.98 L308.7,342.94 L309.2,343.38 L309.7,343.44 L310.2,343.25 L310.7,343.1 L311.2,343.46 L311.7,342.9 L312.2,343.18 L312.7,343.33 L313.2,343.81 L313.7,343.51 L314.2,343.74 L314.7,343.35 L315.2,343.13 L315.7,343.14 L316.2,343.82 L316.7,343.58 L317.2,343.2 L317.7,342.94 L318.2,343.39 L318.7,343.55 L319.2,343.32 L319.7,343.17 L320.2,343.55 L320.7,343.79 L321.2,343.14 L321.7,342.97 L322.2,343.25 L322.7,343.33 L323.2,343.58 L323.7,343.13 L324.2,343.68 L324.7,343.63 L325.2,343.42 L325.7,343.14 L326.2,343.85 L326.7,343.24 L327.2,343.71 L327.7,343.17 L328.2,343.17 L328.7,343.66 L329.2,343.24 L329.7,343.84 L330.2,343.43 L330.7,343.15 L331.2,343.18 L331.7,343.36 L332.2,343.59 L332.7,343.85 L333.2,343.12 L333.7,343.35 L334.2,343.18 L334.7,343.87 L335.2,343.12 L335.7,343.05 L336.2,343.06 L336.7,343.36 L337.2,343.81 L337.7,343.8 L338.2,343.67 L338.7,343.9 L339.2,343.85 L339.7,343.31 L340.2,343.19 L340.7,343.85 L341.2,343.69 L341.7,343.06 L342.2,343.62 L342.7,343.37 L343.2,343.36 L343.7,343.33 L344.2,343.19 L344.7,343.04 L345.2,343.29 L345.7,343.35 L346.2,343.89 L346.7,343.16 L347.2,343.9 L347.7,343.24 L348.2,343.37 L348.7,343.78 L349.2,343.78 L350,343.5" fill="none" stroke="#ababab" stroke-width="2.0" stroke-linejoin="round"/>
<path d="M385.9,345.5 L385.9,345.5 L386.9,345.5 L386.9,327.28 L387.9,327.28 L387.9,321 L388.9,321 L388.9,319.32 L389.9,319.32 L389.9,313.1 L390.9,313.1 L390.9,308.66 L391.9,308.66 L391.9,299.79 L392.9,299.79 L392.9,294.19 L393.9,294.19 L393.9,290.08 L394.9,290.08 L394.9,281.14 L395.9,281.14 L395.9,279.55 L396.9,279.55 L396.9,278.51 L397.9,278.51 L397.9,277.28 L398.9,277.28 L398.9,272.77 L399.9,272.77 L399.9,273.66 L400.9,273.66 L400.9,275.24 L401.9,275.24 L401.9,281.13 L402.9,281.13 L402.9,280.53 L403.9,280.53 L403.9,286.15 L404.9,286.15 L404.9,290.17 L405.9,290.17 L405.9,291.13 L406.9,291.13 L406.9,293.89 L407.9,293.89 L407.9,299.5 L408.9,299.5 L408.9,300.96 L409.9,300.96 L409.9,302.67 L410.9,302.67 L410.9,308.06 L411.9,308.06 L411.9,308.99 L412.9,308.99 L412.9,308.74 L413.9,308.74 L413.9,306.98 L414.9,306.98 L414.9,311.99 L415.9,311.99 L415.9,315.39 L416.9,315.39 L416.9,316.93 L417.9,316.93 L417.9,320.11 L418.9,320.11 L418.9,317.26 L419.9,317.26 L419.9,320.29 L420.9,320.29 L420.9,323.22 L421.9,323.22 L421.9,326.53 L422.9,326.53 L422.9,327.03 L423.9,327.03 L423.9,325.06 L424.9,325.06 L424.9,324.89 L425.9,324.89 L425.9,326.29 L426.9,326.29 L426.9,327.1 L427.9,327.1 L427.9,329.47 L428.9,329.47 L428.9,326.55 L429.9,326.55 L429.9,329.97 L430.9,329.97 L430.9,330.21 L431.9,330.21 L431.9,331.07 L432.9,331.07 L432.9,331.37 L433.9,331.37 L433.9,331.18 L434.9,331.18 L434.9,330.41 L435.9,330.41 L435.9,330.91 L436.9,330.91 L436.9,331.66 L437.9,331.66 L437.9,334.09 L438.9,334.09 L438.9,331.18 L439.9,331.18 L439.9,332.43 L440.9,332.43 L440.9,335.56 L441.9,335.56 L441.9,333.57 L442.9,333.57 L442.9,332.86 L443.9,332.86 L443.9,333 L444.9,333 L444.9,336.15 L445.9,336.15 L445.9,335.44 L446.9,335.44 L446.9,338.69 L447.9,338.69 L447.9,338.66 L448.9,338.66 L448.9,339.45 L449.9,339.45 L449.9,336.5 L450.9,336.5 L450.9,335.74 L451.9,335.74 L451.9,336.09 L452.9,336.09 L452.9,338.46 L453.9,338.46 L453.9,339.67 L454.9,339.67 L454.9,338.75 L455.9,338.75 L455.9,337.99 L456.9,337.99 L456.9,339.09 L457.9,339.09 L457.9,340.15 L458.9,340.15 L458.9,340.46 L459.9,340.46 L459.9,340.83 L460.9,340.83 L460.9,341.26 L461.9,341.26 L461.9,340.72 L462.9,340.72 L462.9,338.68 L463.9,338.68 L463.9,341.49 L464.9,341.49 L464.9,339.69 L465.9,339.69 L465.9,340.78 L466.9,340.78 L466.9,340.23 L467.9,340.23 L467.9,341.52 L468.9,341.52 L468.9,339.84 L469.9,339.84 L469.9,340.15 L470.9,340.15 L470.9,340.27 L471.9,340.27 L471.9,340.07 L472.9,340.07 L472.9,342.36 L473.9,342.36 L473.9,341.63 L474.9,341.63 L474.9,341 L475.9,341 L475.9,341.31 L476.9,341.31 L476.9,342.9 L477.9,342.9 L477.9,341.8 L478.9,341.8 L478.9,341.15 L479.9,341.15 L479.9,342.68 L480.9,342.68 L480.9,342.41 L481.9,342.41 L481.9,343.21 L482.9,343.21 L482.9,341.23 L483.9,341.23 L483.9,342.28 L484.9,342.28 L484.9,343.07 L485.9,343.07 L485.9,343.18 L486.9,343.18 L486.9,343.38 L487.9,343.38 L487.9,341.57 L488.9,341.57 L488.9,342.26 L489.9,342.26 L489.9,341.9 L490.9,341.9 L490.9,342.12 L491.9,342.12 L491.9,343.62 L492.9,343.62 L492.9,342.99 L493.9,342.99 L493.9,343.61 L494.9,343.61 L494.9,342.68 L495.9,342.68 L495.9,343.56 L496.9,343.56 L496.9,342.91 L497.9,342.91 L497.9,342.6 L498.9,342.6 L498.9,343.52 L499.9,343.52 L499.9,343.79 L500.9,343.79 L500.9,342.38 L501.9,342.38 L501.9,343.29 L502.9,343.29 L502.9,343.34 L503.9,343.34 L503.9,342.66 L504.9,342.66 L504.9,342.95 L505.9,342.95 L505.9,342.55 L506.9,342.55 L506.9,342.69 L507.9,342.69 L507.9,342.8 L508.9,342.8 L508.9,343.38 L509.9,343.38 L509.9,343.47 L510.9,343.47 L510.9,342.76 L511.9,342.76 L511.9,342.34 L512,342.34 L512,345.5 Z" fill="#050505"/>
<path d="M385.8,345 L386.1,343.08 L386.6,341.14 L386.7,340 L387.1,332.52 L387.6,326 L388.1,321.68 L388.6,317.67 L389,316 L389.1,316.78 L389.6,313.79 L390.1,309.85 L390.6,308.01 L391,308 L391.1,307.35 L391.6,306.82 L392.1,306.02 L392.3,305 L392.6,300.99 L393.1,297.32 L393.5,295.5 L393.6,295.49 L394.1,290.39 L394.6,285.92 L394.7,286 L395.1,282.85 L395.6,282.46 L396.1,276.93 L396.5,275.3 L396.6,275.04 L397.1,271.56 L397.6,269.16 L398.1,268.31 L398.3,265.8 L398.6,265.88 L399.1,260.17 L399.6,256.33 L400,255 L400.1,255.13 L400.6,249.15 L400.9,248 L401.1,243.7 L401.4,242.2 L401.6,246.13 L401.9,248 L402.1,249.3 L402.6,254.88 L403,256.8 L403.1,256.93 L403.6,261.39 L404.1,262.25 L404.6,263.61 L405,267 L405.1,265.66 L405.6,270.81 L406.1,274.16 L406.6,278.24 L407,279 L407.1,277.86 L407.6,282.49 L408.1,283.98 L408.6,287.02 L409,289 L409.1,288.18 L409.6,291.73 L410.1,295.68 L410.6,300.3 L411,301 L411.1,300.04 L411.6,304.56 L412.1,308.82 L412.6,312.47 L413,313 L413.1,312.3 L413.6,314.57 L414.1,320.38 L414.6,323.06 L415,323.2 L415.1,323.56 L415.6,323.96 L416.1,329.58 L416.6,329.55 L417,331.7 L417.1,333.57 L417.6,333.71 L418.1,335.8 L418.6,334.42 L419,336.8 L419.1,338.11 L419.6,336.71 L420.1,338.29 L420.6,340.9 L421,340.2 L421.1,341.43 L421.6,339.73 L422.1,340.38 L422.6,341.38 L423.1,342.13 L423.6,342.31 L424.1,342.36 L424.6,343.09 L425,343.8 L425.1,344.06 L425.6,344.25 L426.1,343.29 L426.6,343.89 L427.1,344.11 L427.6,343.31 L428.1,344.21 L428.6,343.41 L429.1,343.95 L429.6,343.9 L430.1,343.99 L430.6,343.65 L431.1,343.78 L431.6,343.96 L432.1,343.79 L432.6,344.05 L433.1,343.83 L433.6,343.82 L434.1,343.38 L434.6,344.03 L435.1,343.89 L435.6,343.63 L436.1,344.19 L436.6,344.21 L437.1,343.88 L437.6,343.6 L438.1,343.91 L438.6,343.53 L439.1,343.56 L439.6,343.88 L440.1,343.54 L440.6,343.9 L441.1,343.98 L441.6,343.5 L442.1,344.12 L442.6,343.56 L443.1,344.22 L443.6,344.27 L444.1,344.01 L444.6,343.56 L445.1,344.01 L445.6,343.89 L446.1,344.46 L446.6,343.67 L447.1,344.38 L447.6,344.52 L448.1,344.27 L448.6,344.35 L449.1,343.75 L449.6,344.52 L450.1,344.05 L450.6,344.5 L451.1,344.47 L451.6,343.76 L452.1,344.35 L452.6,344.49 L453.1,343.68 L453.6,343.96 L454.1,344.34 L454.6,343.79 L455.1,344.48 L455.6,343.91 L456.1,344.41 L456.6,343.8 L457.1,344.13 L457.6,344.52 L458.1,343.88 L458.6,343.93 L459.1,344.16 L459.6,344 L460.1,343.75 L460.6,343.89 L461.1,343.87 L461.6,344.56 L462.1,344.34 L462.6,344.53 L463.1,343.91 L463.6,344.45 L464.1,343.87 L464.6,344.24 L465.1,344.33 L465.6,344.1 L466.1,344.54 L466.6,344.28 L467.1,344.3 L467.6,344.56 L468.1,343.92 L468.6,344.66 L469.1,344.36 L469.6,344.17 L470.1,344.51 L470.6,344.08 L471.1,344.68 L471.6,344.34 L472.1,344.17 L472.6,344.51 L473.1,344.25 L473.6,344.04 L474.1,344.5 L474.6,343.96 L475.1,344.57 L475.6,344.13 L476.1,344.44 L476.6,344.71 L477.1,344.41 L477.6,344.47 L478.1,344.21 L478.6,343.97 L479.1,344.01 L479.6,344.1 L480.1,344.46 L480.6,344.32 L481.1,344.39 L481.6,344.68 L482.1,344.12 L482.6,344.2 L483.1,344.51 L483.6,344.06 L484.1,344.05 L484.6,344.31 L485.1,344.14 L485.6,344.32 L486.1,344.24 L486.6,344.5 L487.1,344.51 L487.6,344.24 L488.1,344.54 L488.6,344.44 L489.1,344.21 L489.6,344.77 L490.1,344.3 L490.6,344.24 L491.1,344.21 L491.6,344.58 L492.1,344.74 L492.6,344.69 L493.1,344.5 L493.6,344.51 L494.1,344.51 L494.6,344.52 L495.1,344.53 L495.6,344.53 L496.1,344.54 L496.6,344.54 L497.1,344.55 L497.6,344.55 L498.1,344.56 L498.6,344.56 L499.1,344.57 L499.6,344.57 L500.1,344.58 L500.6,344.58 L501.1,344.59 L501.6,344.59 L502.1,344.6 L502.6,344.6 L503.1,344.61 L503.6,344.61 L504.1,344.62 L504.6,344.62 L505.1,344.63 L505.6,344.63 L506.1,344.64 L506.6,344.64 L507.1,344.65 L507.6,344.65 L508.1,344.66 L508.6,344.66 L509.1,344.67 L509.6,344.68 L510.1,344.68 L510.6,344.69 L511.1,344.69 L511.6,344.7 L512,344.7" fill="none" stroke="#ababab" stroke-width="2.0" stroke-linejoin="round"/>
<rect x="57.9" y="232.6" width="127.9" height="112.6" fill="none" stroke="#111" stroke-width="1.3"/>
<line x1="55.9" y1="236.2" x2="57.9" y2="236.2" stroke="#111" stroke-width="0.9"/>
<line x1="55.9" y1="240.08" x2="57.9" y2="240.08" stroke="#111" stroke-width="0.9"/>
<line x1="55.9" y1="243.96" x2="57.9" y2="243.96" stroke="#111" stroke-width="0.9"/>
<line x1="55.9" y1="247.84" x2="57.9" y2="247.84" stroke="#111" stroke-width="0.9"/>
<line x1="54.9" y1="251.72" x2="57.9" y2="251.72" stroke="#111" stroke-width="0.9"/>
<line x1="55.9" y1="255.6" x2="57.9" y2="255.6" stroke="#111" stroke-width="0.9"/>
<line x1="55.9" y1="259.48" x2="57.9" y2="259.48" stroke="#111" stroke-width="0.9"/>
<line x1="55.9" y1="263.36" x2="57.9" y2="263.36" stroke="#111" stroke-width="0.9"/>
<line x1="55.9" y1="267.24" x2="57.9" y2="267.24" stroke="#111" stroke-width="0.9"/>
<line x1="54.9" y1="271.12" x2="57.9" y2="271.12" stroke="#111" stroke-width="0.9"/>
<line x1="55.9" y1="275" x2="57.9" y2="275" stroke="#111" stroke-width="0.9"/>
<line x1="55.9" y1="278.88" x2="57.9" y2="278.88" stroke="#111" stroke-width="0.9"/>
<line x1="55.9" y1="282.76" x2="57.9" y2="282.76" stroke="#111" stroke-width="0.9"/>
<line x1="55.9" y1="286.64" x2="57.9" y2="286.64" stroke="#111" stroke-width="0.9"/>
<line x1="54.9" y1="290.52" x2="57.9" y2="290.52" stroke="#111" stroke-width="0.9"/>
<line x1="55.9" y1="294.4" x2="57.9" y2="294.4" stroke="#111" stroke-width="0.9"/>
<line x1="55.9" y1="298.28" x2="57.9" y2="298.28" stroke="#111" stroke-width="0.9"/>
<line x1="55.9" y1="302.16" x2="57.9" y2="302.16" stroke="#111" stroke-width="0.9"/>
<line x1="55.9" y1="306.04" x2="57.9" y2="306.04" stroke="#111" stroke-width="0.9"/>
<line x1="54.9" y1="309.92" x2="57.9" y2="309.92" stroke="#111" stroke-width="0.9"/>
<line x1="55.9" y1="313.8" x2="57.9" y2="313.8" stroke="#111" stroke-width="0.9"/>
<line x1="55.9" y1="317.68" x2="57.9" y2="317.68" stroke="#111" stroke-width="0.9"/>
<line x1="55.9" y1="321.56" x2="57.9" y2="321.56" stroke="#111" stroke-width="0.9"/>
<line x1="55.9" y1="325.44" x2="57.9" y2="325.44" stroke="#111" stroke-width="0.9"/>
<line x1="54.9" y1="329.32" x2="57.9" y2="329.32" stroke="#111" stroke-width="0.9"/>
<line x1="55.9" y1="333.2" x2="57.9" y2="333.2" stroke="#111" stroke-width="0.9"/>
<line x1="55.9" y1="337.08" x2="57.9" y2="337.08" stroke="#111" stroke-width="0.9"/>
<line x1="55.9" y1="340.96" x2="57.9" y2="340.96" stroke="#111" stroke-width="0.9"/>
<line x1="57.9" y1="345.2" x2="57.9" y2="347.8" stroke="#111" stroke-width="0.9"/>
<line x1="67.53" y1="345.2" x2="67.53" y2="346.6" stroke="#111" stroke-width="0.9"/>
<line x1="73.16" y1="345.2" x2="73.16" y2="346.6" stroke="#111" stroke-width="0.9"/>
<line x1="77.15" y1="345.2" x2="77.15" y2="346.6" stroke="#111" stroke-width="0.9"/>
<line x1="80.25" y1="345.2" x2="80.25" y2="346.6" stroke="#111" stroke-width="0.9"/>
<line x1="82.78" y1="345.2" x2="82.78" y2="346.6" stroke="#111" stroke-width="0.9"/>
<line x1="84.92" y1="345.2" x2="84.92" y2="346.6" stroke="#111" stroke-width="0.9"/>
<line x1="86.78" y1="345.2" x2="86.78" y2="346.6" stroke="#111" stroke-width="0.9"/>
<line x1="88.41" y1="345.2" x2="88.41" y2="346.6" stroke="#111" stroke-width="0.9"/>
<line x1="89.88" y1="345.2" x2="89.88" y2="347.8" stroke="#111" stroke-width="0.9"/>
<line x1="99.5" y1="345.2" x2="99.5" y2="346.6" stroke="#111" stroke-width="0.9"/>
<line x1="105.13" y1="345.2" x2="105.13" y2="346.6" stroke="#111" stroke-width="0.9"/>
<line x1="109.13" y1="345.2" x2="109.13" y2="346.6" stroke="#111" stroke-width="0.9"/>
<line x1="112.22" y1="345.2" x2="112.22" y2="346.6" stroke="#111" stroke-width="0.9"/>
<line x1="114.76" y1="345.2" x2="114.76" y2="346.6" stroke="#111" stroke-width="0.9"/>
<line x1="116.9" y1="345.2" x2="116.9" y2="346.6" stroke="#111" stroke-width="0.9"/>
<line x1="118.75" y1="345.2" x2="118.75" y2="346.6" stroke="#111" stroke-width="0.9"/>
<line x1="120.39" y1="345.2" x2="120.39" y2="346.6" stroke="#111" stroke-width="0.9"/>
<line x1="121.85" y1="345.2" x2="121.85" y2="347.8" stroke="#111" stroke-width="0.9"/>
<line x1="131.48" y1="345.2" x2="131.48" y2="346.6" stroke="#111" stroke-width="0.9"/>
<line x1="137.11" y1="345.2" x2="137.11" y2="346.6" stroke="#111" stroke-width="0.9"/>
<line x1="141.1" y1="345.2" x2="141.1" y2="346.6" stroke="#111" stroke-width="0.9"/>
<line x1="144.2" y1="345.2" x2="144.2" y2="346.6" stroke="#111" stroke-width="0.9"/>
<line x1="146.73" y1="345.2" x2="146.73" y2="346.6" stroke="#111" stroke-width="0.9"/>
<line x1="148.87" y1="345.2" x2="148.87" y2="346.6" stroke="#111" stroke-width="0.9"/>
<line x1="150.73" y1="345.2" x2="150.73" y2="346.6" stroke="#111" stroke-width="0.9"/>
<line x1="152.36" y1="345.2" x2="152.36" y2="346.6" stroke="#111" stroke-width="0.9"/>
<line x1="153.83" y1="345.2" x2="153.83" y2="347.8" stroke="#111" stroke-width="0.9"/>
<line x1="163.45" y1="345.2" x2="163.45" y2="346.6" stroke="#111" stroke-width="0.9"/>
<line x1="169.08" y1="345.2" x2="169.08" y2="346.6" stroke="#111" stroke-width="0.9"/>
<line x1="173.08" y1="345.2" x2="173.08" y2="346.6" stroke="#111" stroke-width="0.9"/>
<line x1="176.17" y1="345.2" x2="176.17" y2="346.6" stroke="#111" stroke-width="0.9"/>
<line x1="178.71" y1="345.2" x2="178.71" y2="346.6" stroke="#111" stroke-width="0.9"/>
<line x1="180.85" y1="345.2" x2="180.85" y2="346.6" stroke="#111" stroke-width="0.9"/>
<line x1="182.7" y1="345.2" x2="182.7" y2="346.6" stroke="#111" stroke-width="0.9"/>
<line x1="184.34" y1="345.2" x2="184.34" y2="346.6" stroke="#111" stroke-width="0.9"/>
<line x1="185.8" y1="345.2" x2="185.8" y2="347.8" stroke="#111" stroke-width="0.9"/>
<rect x="222.4" y="232.9" width="128" height="112.5" fill="none" stroke="#111" stroke-width="1.3"/>
<line x1="220.4" y1="236.5" x2="222.4" y2="236.5" stroke="#111" stroke-width="0.9"/>
<line x1="220.4" y1="240.38" x2="222.4" y2="240.38" stroke="#111" stroke-width="0.9"/>
<line x1="220.4" y1="244.26" x2="222.4" y2="244.26" stroke="#111" stroke-width="0.9"/>
<line x1="220.4" y1="248.14" x2="222.4" y2="248.14" stroke="#111" stroke-width="0.9"/>
<line x1="219.4" y1="252.02" x2="222.4" y2="252.02" stroke="#111" stroke-width="0.9"/>
<line x1="220.4" y1="255.9" x2="222.4" y2="255.9" stroke="#111" stroke-width="0.9"/>
<line x1="220.4" y1="259.78" x2="222.4" y2="259.78" stroke="#111" stroke-width="0.9"/>
<line x1="220.4" y1="263.66" x2="222.4" y2="263.66" stroke="#111" stroke-width="0.9"/>
<line x1="220.4" y1="267.54" x2="222.4" y2="267.54" stroke="#111" stroke-width="0.9"/>
<line x1="219.4" y1="271.42" x2="222.4" y2="271.42" stroke="#111" stroke-width="0.9"/>
<line x1="220.4" y1="275.3" x2="222.4" y2="275.3" stroke="#111" stroke-width="0.9"/>
<line x1="220.4" y1="279.18" x2="222.4" y2="279.18" stroke="#111" stroke-width="0.9"/>
<line x1="220.4" y1="283.06" x2="222.4" y2="283.06" stroke="#111" stroke-width="0.9"/>
<line x1="220.4" y1="286.94" x2="222.4" y2="286.94" stroke="#111" stroke-width="0.9"/>
<line x1="219.4" y1="290.82" x2="222.4" y2="290.82" stroke="#111" stroke-width="0.9"/>
<line x1="220.4" y1="294.7" x2="222.4" y2="294.7" stroke="#111" stroke-width="0.9"/>
<line x1="220.4" y1="298.58" x2="222.4" y2="298.58" stroke="#111" stroke-width="0.9"/>
<line x1="220.4" y1="302.46" x2="222.4" y2="302.46" stroke="#111" stroke-width="0.9"/>
<line x1="220.4" y1="306.34" x2="222.4" y2="306.34" stroke="#111" stroke-width="0.9"/>
<line x1="219.4" y1="310.22" x2="222.4" y2="310.22" stroke="#111" stroke-width="0.9"/>
<line x1="220.4" y1="314.1" x2="222.4" y2="314.1" stroke="#111" stroke-width="0.9"/>
<line x1="220.4" y1="317.98" x2="222.4" y2="317.98" stroke="#111" stroke-width="0.9"/>
<line x1="220.4" y1="321.86" x2="222.4" y2="321.86" stroke="#111" stroke-width="0.9"/>
<line x1="220.4" y1="325.74" x2="222.4" y2="325.74" stroke="#111" stroke-width="0.9"/>
<line x1="219.4" y1="329.62" x2="222.4" y2="329.62" stroke="#111" stroke-width="0.9"/>
<line x1="220.4" y1="333.5" x2="222.4" y2="333.5" stroke="#111" stroke-width="0.9"/>
<line x1="220.4" y1="337.38" x2="222.4" y2="337.38" stroke="#111" stroke-width="0.9"/>
<line x1="220.4" y1="341.26" x2="222.4" y2="341.26" stroke="#111" stroke-width="0.9"/>
<line x1="222.4" y1="345.4" x2="222.4" y2="348" stroke="#111" stroke-width="0.9"/>
<line x1="232.03" y1="345.4" x2="232.03" y2="346.8" stroke="#111" stroke-width="0.9"/>
<line x1="237.67" y1="345.4" x2="237.67" y2="346.8" stroke="#111" stroke-width="0.9"/>
<line x1="241.67" y1="345.4" x2="241.67" y2="346.8" stroke="#111" stroke-width="0.9"/>
<line x1="244.77" y1="345.4" x2="244.77" y2="346.8" stroke="#111" stroke-width="0.9"/>
<line x1="247.3" y1="345.4" x2="247.3" y2="346.8" stroke="#111" stroke-width="0.9"/>
<line x1="249.44" y1="345.4" x2="249.44" y2="346.8" stroke="#111" stroke-width="0.9"/>
<line x1="251.3" y1="345.4" x2="251.3" y2="346.8" stroke="#111" stroke-width="0.9"/>
<line x1="252.94" y1="345.4" x2="252.94" y2="346.8" stroke="#111" stroke-width="0.9"/>
<line x1="254.4" y1="345.4" x2="254.4" y2="348" stroke="#111" stroke-width="0.9"/>
<line x1="264.03" y1="345.4" x2="264.03" y2="346.8" stroke="#111" stroke-width="0.9"/>
<line x1="269.67" y1="345.4" x2="269.67" y2="346.8" stroke="#111" stroke-width="0.9"/>
<line x1="273.67" y1="345.4" x2="273.67" y2="346.8" stroke="#111" stroke-width="0.9"/>
<line x1="276.77" y1="345.4" x2="276.77" y2="346.8" stroke="#111" stroke-width="0.9"/>
<line x1="279.3" y1="345.4" x2="279.3" y2="346.8" stroke="#111" stroke-width="0.9"/>
<line x1="281.44" y1="345.4" x2="281.44" y2="346.8" stroke="#111" stroke-width="0.9"/>
<line x1="283.3" y1="345.4" x2="283.3" y2="346.8" stroke="#111" stroke-width="0.9"/>
<line x1="284.94" y1="345.4" x2="284.94" y2="346.8" stroke="#111" stroke-width="0.9"/>
<line x1="286.4" y1="345.4" x2="286.4" y2="348" stroke="#111" stroke-width="0.9"/>
<line x1="296.03" y1="345.4" x2="296.03" y2="346.8" stroke="#111" stroke-width="0.9"/>
<line x1="301.67" y1="345.4" x2="301.67" y2="346.8" stroke="#111" stroke-width="0.9"/>
<line x1="305.67" y1="345.4" x2="305.67" y2="346.8" stroke="#111" stroke-width="0.9"/>
<line x1="308.77" y1="345.4" x2="308.77" y2="346.8" stroke="#111" stroke-width="0.9"/>
<line x1="311.3" y1="345.4" x2="311.3" y2="346.8" stroke="#111" stroke-width="0.9"/>
<line x1="313.44" y1="345.4" x2="313.44" y2="346.8" stroke="#111" stroke-width="0.9"/>
<line x1="315.3" y1="345.4" x2="315.3" y2="346.8" stroke="#111" stroke-width="0.9"/>
<line x1="316.94" y1="345.4" x2="316.94" y2="346.8" stroke="#111" stroke-width="0.9"/>
<line x1="318.4" y1="345.4" x2="318.4" y2="348" stroke="#111" stroke-width="0.9"/>
<line x1="328.03" y1="345.4" x2="328.03" y2="346.8" stroke="#111" stroke-width="0.9"/>
<line x1="333.67" y1="345.4" x2="333.67" y2="346.8" stroke="#111" stroke-width="0.9"/>
<line x1="337.67" y1="345.4" x2="337.67" y2="346.8" stroke="#111" stroke-width="0.9"/>
<line x1="340.77" y1="345.4" x2="340.77" y2="346.8" stroke="#111" stroke-width="0.9"/>
<line x1="343.3" y1="345.4" x2="343.3" y2="346.8" stroke="#111" stroke-width="0.9"/>
<line x1="345.44" y1="345.4" x2="345.44" y2="346.8" stroke="#111" stroke-width="0.9"/>
<line x1="347.3" y1="345.4" x2="347.3" y2="346.8" stroke="#111" stroke-width="0.9"/>
<line x1="348.94" y1="345.4" x2="348.94" y2="346.8" stroke="#111" stroke-width="0.9"/>
<line x1="350.4" y1="345.4" x2="350.4" y2="348" stroke="#111" stroke-width="0.9"/>
<rect x="385.3" y="233.2" width="127.3" height="112.9" fill="none" stroke="#111" stroke-width="1.3"/>
<line x1="383.3" y1="236.8" x2="385.3" y2="236.8" stroke="#111" stroke-width="0.9"/>
<line x1="383.3" y1="240.68" x2="385.3" y2="240.68" stroke="#111" stroke-width="0.9"/>
<line x1="383.3" y1="244.56" x2="385.3" y2="244.56" stroke="#111" stroke-width="0.9"/>
<line x1="383.3" y1="248.44" x2="385.3" y2="248.44" stroke="#111" stroke-width="0.9"/>
<line x1="382.3" y1="252.32" x2="385.3" y2="252.32" stroke="#111" stroke-width="0.9"/>
<line x1="383.3" y1="256.2" x2="385.3" y2="256.2" stroke="#111" stroke-width="0.9"/>
<line x1="383.3" y1="260.08" x2="385.3" y2="260.08" stroke="#111" stroke-width="0.9"/>
<line x1="383.3" y1="263.96" x2="385.3" y2="263.96" stroke="#111" stroke-width="0.9"/>
<line x1="383.3" y1="267.84" x2="385.3" y2="267.84" stroke="#111" stroke-width="0.9"/>
<line x1="382.3" y1="271.72" x2="385.3" y2="271.72" stroke="#111" stroke-width="0.9"/>
<line x1="383.3" y1="275.6" x2="385.3" y2="275.6" stroke="#111" stroke-width="0.9"/>
<line x1="383.3" y1="279.48" x2="385.3" y2="279.48" stroke="#111" stroke-width="0.9"/>
<line x1="383.3" y1="283.36" x2="385.3" y2="283.36" stroke="#111" stroke-width="0.9"/>
<line x1="383.3" y1="287.24" x2="385.3" y2="287.24" stroke="#111" stroke-width="0.9"/>
<line x1="382.3" y1="291.12" x2="385.3" y2="291.12" stroke="#111" stroke-width="0.9"/>
<line x1="383.3" y1="295" x2="385.3" y2="295" stroke="#111" stroke-width="0.9"/>
<line x1="383.3" y1="298.88" x2="385.3" y2="298.88" stroke="#111" stroke-width="0.9"/>
<line x1="383.3" y1="302.76" x2="385.3" y2="302.76" stroke="#111" stroke-width="0.9"/>
<line x1="383.3" y1="306.64" x2="385.3" y2="306.64" stroke="#111" stroke-width="0.9"/>
<line x1="382.3" y1="310.52" x2="385.3" y2="310.52" stroke="#111" stroke-width="0.9"/>
<line x1="383.3" y1="314.4" x2="385.3" y2="314.4" stroke="#111" stroke-width="0.9"/>
<line x1="383.3" y1="318.28" x2="385.3" y2="318.28" stroke="#111" stroke-width="0.9"/>
<line x1="383.3" y1="322.16" x2="385.3" y2="322.16" stroke="#111" stroke-width="0.9"/>
<line x1="383.3" y1="326.04" x2="385.3" y2="326.04" stroke="#111" stroke-width="0.9"/>
<line x1="382.3" y1="329.92" x2="385.3" y2="329.92" stroke="#111" stroke-width="0.9"/>
<line x1="383.3" y1="333.8" x2="385.3" y2="333.8" stroke="#111" stroke-width="0.9"/>
<line x1="383.3" y1="337.68" x2="385.3" y2="337.68" stroke="#111" stroke-width="0.9"/>
<line x1="383.3" y1="341.56" x2="385.3" y2="341.56" stroke="#111" stroke-width="0.9"/>
<line x1="383.3" y1="345.44" x2="385.3" y2="345.44" stroke="#111" stroke-width="0.9"/>
<line x1="385.3" y1="346.1" x2="385.3" y2="348.7" stroke="#111" stroke-width="0.9"/>
<line x1="394.88" y1="346.1" x2="394.88" y2="347.5" stroke="#111" stroke-width="0.9"/>
<line x1="400.48" y1="346.1" x2="400.48" y2="347.5" stroke="#111" stroke-width="0.9"/>
<line x1="404.46" y1="346.1" x2="404.46" y2="347.5" stroke="#111" stroke-width="0.9"/>
<line x1="407.54" y1="346.1" x2="407.54" y2="347.5" stroke="#111" stroke-width="0.9"/>
<line x1="410.06" y1="346.1" x2="410.06" y2="347.5" stroke="#111" stroke-width="0.9"/>
<line x1="412.2" y1="346.1" x2="412.2" y2="347.5" stroke="#111" stroke-width="0.9"/>
<line x1="414.04" y1="346.1" x2="414.04" y2="347.5" stroke="#111" stroke-width="0.9"/>
<line x1="415.67" y1="346.1" x2="415.67" y2="347.5" stroke="#111" stroke-width="0.9"/>
<line x1="417.12" y1="346.1" x2="417.12" y2="348.7" stroke="#111" stroke-width="0.9"/>
<line x1="426.71" y1="346.1" x2="426.71" y2="347.5" stroke="#111" stroke-width="0.9"/>
<line x1="432.31" y1="346.1" x2="432.31" y2="347.5" stroke="#111" stroke-width="0.9"/>
<line x1="436.29" y1="346.1" x2="436.29" y2="347.5" stroke="#111" stroke-width="0.9"/>
<line x1="439.37" y1="346.1" x2="439.37" y2="347.5" stroke="#111" stroke-width="0.9"/>
<line x1="441.89" y1="346.1" x2="441.89" y2="347.5" stroke="#111" stroke-width="0.9"/>
<line x1="444.02" y1="346.1" x2="444.02" y2="347.5" stroke="#111" stroke-width="0.9"/>
<line x1="445.87" y1="346.1" x2="445.87" y2="347.5" stroke="#111" stroke-width="0.9"/>
<line x1="447.49" y1="346.1" x2="447.49" y2="347.5" stroke="#111" stroke-width="0.9"/>
<line x1="448.95" y1="346.1" x2="448.95" y2="348.7" stroke="#111" stroke-width="0.9"/>
<line x1="458.53" y1="346.1" x2="458.53" y2="347.5" stroke="#111" stroke-width="0.9"/>
<line x1="464.13" y1="346.1" x2="464.13" y2="347.5" stroke="#111" stroke-width="0.9"/>
<line x1="468.11" y1="346.1" x2="468.11" y2="347.5" stroke="#111" stroke-width="0.9"/>
<line x1="471.19" y1="346.1" x2="471.19" y2="347.5" stroke="#111" stroke-width="0.9"/>
<line x1="473.71" y1="346.1" x2="473.71" y2="347.5" stroke="#111" stroke-width="0.9"/>
<line x1="475.85" y1="346.1" x2="475.85" y2="347.5" stroke="#111" stroke-width="0.9"/>
<line x1="477.69" y1="346.1" x2="477.69" y2="347.5" stroke="#111" stroke-width="0.9"/>
<line x1="479.32" y1="346.1" x2="479.32" y2="347.5" stroke="#111" stroke-width="0.9"/>
<line x1="480.78" y1="346.1" x2="480.78" y2="348.7" stroke="#111" stroke-width="0.9"/>
<line x1="490.36" y1="346.1" x2="490.36" y2="347.5" stroke="#111" stroke-width="0.9"/>
<line x1="495.96" y1="346.1" x2="495.96" y2="347.5" stroke="#111" stroke-width="0.9"/>
<line x1="499.94" y1="346.1" x2="499.94" y2="347.5" stroke="#111" stroke-width="0.9"/>
<line x1="503.02" y1="346.1" x2="503.02" y2="347.5" stroke="#111" stroke-width="0.9"/>
<line x1="505.54" y1="346.1" x2="505.54" y2="347.5" stroke="#111" stroke-width="0.9"/>
<line x1="507.67" y1="346.1" x2="507.67" y2="347.5" stroke="#111" stroke-width="0.9"/>
<line x1="509.52" y1="346.1" x2="509.52" y2="347.5" stroke="#111" stroke-width="0.9"/>
<line x1="511.14" y1="346.1" x2="511.14" y2="347.5" stroke="#111" stroke-width="0.9"/>
<line x1="512.6" y1="346.1" x2="512.6" y2="348.7" stroke="#111" stroke-width="0.9"/>
<text x="124.1" y="222.5" font-size="13" text-anchor="middle" font-weight="normal" fill="#111" >Control Ig</text>
<text x="287.5" y="222.5" font-size="13" text-anchor="middle" font-weight="normal" fill="#111" >BYK-1</text>
<text x="448.6" y="222.8" font-size="13" text-anchor="middle" font-weight="normal" fill="#111" >BYK-2</text>
<line x1="62.6" y1="363.8" x2="222.3" y2="363.8" stroke="#2a2a2a" stroke-width="1.4"/>
<text x="286.6" y="368.5" font-size="13" text-anchor="middle" font-weight="normal" fill="#111" >Binding of HVEM-Ig</text>
<line x1="351.5" y1="363.8" x2="503" y2="363.8" stroke="#2a2a2a" stroke-width="1.4"/>
<path d="M502.3,360.3 L509.6,363.8 L502.3,367.3 Z" fill="#111"/>
<path d="M57.1,552 L57.1,551.09 L57.7,551.09 L57.7,550.22 L58.3,550.22 L58.3,549.31 L58.9,549.31 L58.9,549.79 L59.5,549.79 L59.5,549.75 L60.1,549.75 L60.1,549.62 L60.7,549.62 L60.7,549.82 L61.3,549.82 L61.3,549.7 L61.9,549.7 L61.9,550 L62.5,550 L62.5,549.9 L63.1,549.9 L63.1,549.6 L63.7,549.6 L63.7,550.01 L64.3,550.01 L64.3,549.42 L64.9,549.42 L64.9,549.72 L65.5,549.72 L65.5,549.59 L66.1,549.59 L66.1,549.42 L66.7,549.42 L66.7,549.22 L67.3,549.22 L67.3,549.69 L67.9,549.69 L67.9,549.05 L68.5,549.05 L68.5,549.45 L69.1,549.45 L69.1,549.66 L69.7,549.66 L69.7,549.03 L70.3,549.03 L70.3,549.03 L70.9,549.03 L70.9,549.31 L71.5,549.31 L71.5,549.01 L72.1,549.01 L72.1,548.91 L72.7,548.91 L72.7,548.85 L73.3,548.85 L73.3,548 L73.9,548 L73.9,547.92 L74.5,547.92 L74.5,547.66 L75.1,547.66 L75.1,547.03 L75.7,547.03 L75.7,547.88 L76.3,547.88 L76.3,547.54 L76.9,547.54 L76.9,547.24 L77.5,547.24 L77.5,545.84 L78.1,545.84 L78.1,546.94 L78.7,546.94 L78.7,546.54 L79.3,546.54 L79.3,545.82 L79.9,545.82 L79.9,546 L80.5,546 L80.5,545.22 L81.1,545.22 L81.1,544.46 L81.7,544.46 L81.7,543.87 L82.3,543.87 L82.3,543.89 L82.9,543.89 L82.9,543.08 L83.5,543.08 L83.5,543.54 L84.1,543.54 L84.1,544.08 L84.7,544.08 L84.7,543.68 L85.3,543.68 L85.3,543.57 L85.9,543.57 L85.9,542.93 L86.5,542.93 L86.5,541.62 L87.1,541.62 L87.1,541.83 L87.7,541.83 L87.7,541.2 L88.3,541.2 L88.3,541.43 L88.9,541.43 L88.9,540.17 L89.5,540.17 L89.5,538.86 L90.1,538.86 L90.1,538.89 L90.7,538.89 L90.7,538.35 L91.3,538.35 L91.3,534.95 L91.9,534.95 L91.9,534.24 L92.5,534.24 L92.5,529.99 L93.1,529.99 L93.1,528.24 L93.7,528.24 L93.7,525.67 L94.3,525.67 L94.3,524.86 L94.9,524.86 L94.9,523.71 L95.5,523.71 L95.5,521.83 L96.1,521.83 L96.1,519.33 L96.7,519.33 L96.7,518.73 L97.3,518.73 L97.3,515.95 L97.9,515.95 L97.9,514.06 L98.5,514.06 L98.5,513.7 L99.1,513.7 L99.1,511.26 L99.7,511.26 L99.7,508.98 L100.3,508.98 L100.3,506.53 L100.9,506.53 L100.9,504.7 L101.5,504.7 L101.5,501.34 L102.1,501.34 L102.1,499.65 L102.7,499.65 L102.7,497.97 L103.3,497.97 L103.3,497.05 L103.9,497.05 L103.9,495.02 L104.5,495.02 L104.5,494.37 L105.1,494.37 L105.1,492.86 L105.7,492.86 L105.7,490.57 L106.3,490.57 L106.3,487.57 L106.9,487.57 L106.9,485.66 L107.5,485.66 L107.5,481.65 L108.1,481.65 L108.1,480.63 L108.7,480.63 L108.7,476.27 L109.3,476.27 L109.3,473.66 L109.9,473.66 L109.9,471.73 L110.5,471.73 L110.5,471.27 L111.1,471.27 L111.1,467.97 L111.7,467.97 L111.7,465.32 L112.3,465.32 L112.3,463.05 L112.9,463.05 L112.9,461.27 L113.5,461.27 L113.5,460.91 L114.1,460.91 L114.1,458.97 L114.7,458.97 L114.7,455.52 L115.3,455.52 L115.3,452.02 L115.9,452.02 L115.9,446.97 L116.5,446.97 L116.5,445.37 L117.1,445.37 L117.1,443.68 L117.7,443.68 L117.7,443.35 L118.3,443.35 L118.3,442.13 L118.9,442.13 L118.9,440.53 L119.5,440.53 L119.5,436.79 L120.1,436.79 L120.1,436.53 L120.7,436.53 L120.7,434.64 L121.3,434.64 L121.3,433.27 L121.9,433.27 L121.9,432.93 L122.5,432.93 L122.5,434.56 L123.1,434.56 L123.1,435.71 L123.7,435.71 L123.7,436.86 L124.3,436.86 L124.3,439.72 L124.9,439.72 L124.9,440.13 L125.5,440.13 L125.5,440.27 L126.1,440.27 L126.1,441.1 L126.7,441.1 L126.7,441.21 L127.3,441.21 L127.3,442.61 L127.9,442.61 L127.9,445.08 L128.5,445.08 L128.5,448 L129.1,448 L129.1,452.36 L129.7,452.36 L129.7,454.36 L130.3,454.36 L130.3,458.85 L130.9,458.85 L130.9,463.31 L131.5,463.31 L131.5,466.53 L132.1,466.53 L132.1,470.48 L132.7,470.48 L132.7,472.94 L133.3,472.94 L133.3,476.22 L133.9,476.22 L133.9,477.93 L134.5,477.93 L134.5,480.27 L135.1,480.27 L135.1,483.98 L135.7,483.98 L135.7,485.57 L136.3,485.57 L136.3,488.97 L136.9,488.97 L136.9,492.71 L137.5,492.71 L137.5,495.52 L138.1,495.52 L138.1,500.64 L138.7,500.64 L138.7,505.49 L139.3,505.49 L139.3,511.57 L139.9,511.57 L139.9,516.15 L140.5,516.15 L140.5,522.3 L141.1,522.3 L141.1,525.9 L141.7,525.9 L141.7,528.84 L142.3,528.84 L142.3,533.77 L142.9,533.77 L142.9,535.55 L143.5,535.55 L143.5,539.39 L144.1,539.39 L144.1,540.35 L144.7,540.35 L144.7,542.12 L145.3,542.12 L145.3,544.6 L145.9,544.6 L145.9,546.56 L146.5,546.56 L146.5,547.71 L147.1,547.71 L147.1,547.42 L147.7,547.42 L147.7,549.03 L148.3,549.03 L148.3,549.99 L148.9,549.99 L148.9,550.49 L149.5,550.49 L149.5,550.48 L150.1,550.48 L150.1,550.86 L150.7,550.86 L150.7,551.08 L151.3,551.08 L151.3,551.42 L151.9,551.42 L151.9,551.51 L152.5,551.51 L152.5,551.6 L153.1,551.6 L153.1,551.52 L153.7,551.52 L153.7,551.52 L154.3,551.52 L154.3,551.58 L154.9,551.58 L154.9,551.56 L155.5,551.56 L155.5,551.52 L156.1,551.52 L156.1,551.59 L156.7,551.59 L156.7,551.52 L157.3,551.52 L157.3,551.61 L157.9,551.61 L157.9,551.61 L158.5,551.61 L158.5,551.62 L159.1,551.62 L159.1,551.61 L159.7,551.61 L159.7,551.58 L160.3,551.58 L160.3,551.59 L160.9,551.59 L160.9,551.6 L161.5,551.6 L161.5,551.65 L162.1,551.65 L162.1,551.57 L162.7,551.57 L162.7,551.66 L163.3,551.66 L163.3,551.57 L163.9,551.57 L163.9,551.6 L164.5,551.6 L164.5,551.61 L165.1,551.61 L165.1,551.68 L165.7,551.68 L165.7,551.65 L166.3,551.65 L166.3,551.64 L166.9,551.64 L166.9,551.69 L167.5,551.69 L167.5,551.63 L168.1,551.63 L168.1,551.66 L168.7,551.66 L168.7,551.67 L169.3,551.67 L169.3,551.7 L169.9,551.7 L169.9,551.7 L170.5,551.7 L170.5,551.69 L171.1,551.69 L171.1,551.67 L171.7,551.67 L171.7,551.68 L172.3,551.68 L172.3,551.66 L172.9,551.66 L172.9,551.73 L173.5,551.73 L173.5,551.72 L174.1,551.72 L174.1,551.73 L174.7,551.73 L174.7,551.69 L175.3,551.69 L175.3,551.71 L175.9,551.71 L175.9,551.7 L176.5,551.7 L176.5,551.71 L177.1,551.71 L177.1,551.71 L177.7,551.71 L177.7,551.72 L178.3,551.72 L178.3,551.72 L178.9,551.72 L178.9,551.73 L179.5,551.73 L179.5,551.73 L180.1,551.73 L180.1,551.74 L180.7,551.74 L180.7,551.74 L181.3,551.74 L181.3,551.75 L181.9,551.75 L181.9,551.75 L182.5,551.75 L182.5,551.76 L183.1,551.76 L183.1,551.76 L183.7,551.76 L183.7,551.77 L184.3,551.77 L184.3,551.77 L184.9,551.77 L184.9,551.78 L185.5,551.78 L185.5,551.78 L186.1,551.78 L186.1,551.79 L186.7,551.79 L186.7,551.79 L187.3,551.79 L187.3,551.8 L187.9,551.8 L187.9,551.8 L188.3,551.8 L188.3,552 Z" fill="#050505"/>
<path d="M57.3,546 L58.1,546.28 L58.9,545.73 L59.6,545.4 L59.7,544.67 L60.5,544.86 L61.3,545.21 L61.9,544.2 L62.1,543.71 L62.9,543.54 L63.7,543.65 L64.5,544.28 L65.3,544.45 L66.1,543.12 L66.5,543.7 L66.9,542.98 L67.7,542.93 L68.5,542.87 L68.8,543.1 L69.3,542.64 L70.1,541.19 L70.6,541.3 L70.9,540.06 L71.7,537.9 L72.5,538.87 L72.9,540.2 L73.3,541.27 L74,540.8 L74.1,540.92 L74.9,537.46 L75.2,537.3 L75.7,536.54 L76.3,533.8 L76.5,532.77 L77.3,532.04 L78.1,531 L78.9,531.59 L79.7,530.97 L79.8,530.4 L80.5,531.46 L81,531.5 L81.3,530.62 L82.1,528.7 L82.9,526.22 L83.3,525.8 L83.7,524.78 L84.4,522.3 L84.5,521.3 L85.2,520 L85.3,519.13 L86.1,516.68 L86.5,515.5 L86.9,513.59 L87.7,512.09 L88.1,511.2 L88.5,509.79 L89.3,505.76 L90.1,501.55 L90.4,500.1 L90.9,497.34 L91.7,492.23 L92.5,486.86 L92.6,486.9 L93.3,482.85 L94.1,477.66 L94.8,473.6 L94.9,473.58 L95.7,470.28 L96.5,465.82 L97,463.7 L97.3,461.09 L98.1,454.1 L98.5,450 L98.9,439.34 L99.2,431.6 L99.7,435.16 L100.3,440.5 L100.5,441.1 L101.3,442.18 L102.1,442.79 L102.5,442.7 L102.9,444.93 L103.7,448.93 L104.5,452.36 L105.3,456.02 L105.8,458.1 L106.1,460.43 L106.9,466.61 L107.7,473.62 L108,475.8 L108.5,480.6 L109.3,490.01 L110.1,499.5 L110.2,500.1 L110.9,506.54 L111.7,513.31 L112.5,520 L113.3,523.67 L114.1,528.1 L114.9,532.28 L115.7,536.7 L115.8,537 L116.5,539.72 L117.3,543.49 L117.5,544 L118.1,546.16 L118.9,546.78 L119.1,547.7 L119.7,548.56 L120.5,549.54 L121,549.9 L121.3,549.9 L122.1,550.15 L122.9,550.58 L123.7,550.33 L124.5,550.74 L125.3,550.8 L125.7,551 L126.1,551 L126.9,551.01 L127.7,551.02 L128.5,551.02 L129.3,551.03 L130.1,551.04 L130.9,551.04 L131.7,551.05 L132.5,551.05 L133.3,551.06 L134.1,551.07 L134.9,551.07 L135.7,551.08 L136.5,551.09 L137.3,551.09 L138.1,551.1 L138.9,551.11 L139.7,551.11 L140.5,551.12 L141.3,551.13 L142.1,551.13 L142.9,551.14 L143.7,551.14 L144.5,551.15 L145.3,551.16 L146.1,551.16 L146.9,551.17 L147.7,551.18 L148.5,551.18 L149.3,551.19 L150.1,551.2 L150.9,551.2 L151.7,551.21 L152.5,551.22 L153.3,551.22 L154.1,551.23 L154.9,551.23 L155.7,551.24 L156.5,551.25 L157.3,551.25 L158.1,551.26 L158.9,551.27 L159.7,551.27 L160.5,551.28 L161.3,551.29 L162.1,551.29 L162.9,551.3 L163.7,551.3 L164.5,551.31 L165.3,551.32 L166.1,551.32 L166.9,551.33 L167.7,551.34 L168.5,551.34 L169.3,551.35 L170.1,551.36 L170.9,551.36 L171.7,551.37 L172.5,551.38 L173.3,551.38 L174.1,551.39 L174.9,551.39 L175.7,551.4 L176.5,551.41 L177.3,551.41 L178.1,551.42 L178.9,551.43 L179.7,551.43 L180.5,551.44 L181.3,551.45 L182.1,551.45 L182.9,551.46 L183.7,551.47 L184.5,551.47 L185.3,551.48 L186.1,551.48 L186.9,551.49 L187.7,551.5 L188,551.5" fill="none" stroke="#505050" stroke-width="1.25" stroke-linejoin="round"/>
<path d="M220.9,552 L220.9,551.63 L221.5,551.63 L221.5,551.6 L222.1,551.6 L222.1,551.51 L222.7,551.51 L222.7,551.4 L223.3,551.4 L223.3,551.43 L223.9,551.43 L223.9,551.38 L224.5,551.38 L224.5,551.36 L225.1,551.36 L225.1,551.28 L225.7,551.28 L225.7,551.26 L226.3,551.26 L226.3,551.26 L226.9,551.26 L226.9,551.15 L227.5,551.15 L227.5,551.07 L228.1,551.07 L228.1,551.16 L228.7,551.16 L228.7,550.92 L229.3,550.92 L229.3,551.01 L229.9,551.01 L229.9,550.88 L230.5,550.88 L230.5,550.94 L231.1,550.94 L231.1,550.68 L231.7,550.68 L231.7,550.91 L232.3,550.91 L232.3,550.63 L232.9,550.63 L232.9,550.4 L233.5,550.4 L233.5,550.43 L234.1,550.43 L234.1,550.4 L234.7,550.4 L234.7,550.1 L235.3,550.1 L235.3,550.25 L235.9,550.25 L235.9,550.17 L236.5,550.17 L236.5,550.23 L237.1,550.23 L237.1,549.97 L237.7,549.97 L237.7,549.83 L238.3,549.83 L238.3,549.72 L238.9,549.72 L238.9,549.95 L239.5,549.95 L239.5,549.99 L240.1,549.99 L240.1,549.68 L240.7,549.68 L240.7,549.38 L241.3,549.38 L241.3,549.7 L241.9,549.7 L241.9,549.34 L242.5,549.34 L242.5,549.12 L243.1,549.12 L243.1,548.96 L243.7,548.96 L243.7,549.39 L244.3,549.39 L244.3,549.26 L244.9,549.26 L244.9,548.8 L245.5,548.8 L245.5,548.32 L246.1,548.32 L246.1,548.08 L246.7,548.08 L246.7,547.32 L247.3,547.32 L247.3,547.88 L247.9,547.88 L247.9,546.79 L248.5,546.79 L248.5,546.86 L249.1,546.86 L249.1,546.77 L249.7,546.77 L249.7,546.44 L250.3,546.44 L250.3,545.52 L250.9,545.52 L250.9,544.82 L251.5,544.82 L251.5,544.95 L252.1,544.95 L252.1,543.64 L252.7,543.64 L252.7,544.73 L253.3,544.73 L253.3,543.4 L253.9,543.4 L253.9,543.77 L254.5,543.77 L254.5,542.01 L255.1,542.01 L255.1,541.65 L255.7,541.65 L255.7,540.77 L256.3,540.77 L256.3,540.55 L256.9,540.55 L256.9,539.42 L257.5,539.42 L257.5,538.28 L258.1,538.28 L258.1,539.37 L258.7,539.37 L258.7,537.89 L259.3,537.89 L259.3,537.23 L259.9,537.23 L259.9,536.78 L260.5,536.78 L260.5,536.56 L261.1,536.56 L261.1,535.86 L261.7,535.86 L261.7,535.67 L262.3,535.67 L262.3,535.12 L262.9,535.12 L262.9,533.92 L263.5,533.92 L263.5,534.41 L264.1,534.41 L264.1,533.26 L264.7,533.26 L264.7,530.32 L265.3,530.32 L265.3,530.76 L265.9,530.76 L265.9,529.68 L266.5,529.68 L266.5,528.01 L267.1,528.01 L267.1,525.17 L267.7,525.17 L267.7,525.12 L268.3,525.12 L268.3,523.27 L268.9,523.27 L268.9,519.16 L269.5,519.16 L269.5,516.5 L270.1,516.5 L270.1,515.9 L270.7,515.9 L270.7,512.32 L271.3,512.32 L271.3,508.36 L271.9,508.36 L271.9,504.88 L272.5,504.88 L272.5,501.88 L273.1,501.88 L273.1,499.16 L273.7,499.16 L273.7,497.66 L274.3,497.66 L274.3,494.2 L274.9,494.2 L274.9,491.13 L275.5,491.13 L275.5,489.57 L276.1,489.57 L276.1,485.76 L276.7,485.76 L276.7,480.87 L277.3,480.87 L277.3,478.75 L277.9,478.75 L277.9,474.62 L278.5,474.62 L278.5,470.6 L279.1,470.6 L279.1,465.28 L279.7,465.28 L279.7,460.6 L280.3,460.6 L280.3,455.56 L280.9,455.56 L280.9,452.05 L281.5,452.05 L281.5,447.14 L282.1,447.14 L282.1,444.58 L282.7,444.58 L282.7,442.17 L283.3,442.17 L283.3,440.77 L283.9,440.77 L283.9,438.38 L284.5,438.38 L284.5,437.68 L285.1,437.68 L285.1,435.77 L285.7,435.77 L285.7,433.86 L286.3,433.86 L286.3,432.49 L286.9,432.49 L286.9,431.9 L287.5,431.9 L287.5,434.22 L288.1,434.22 L288.1,434.73 L288.7,434.73 L288.7,437.22 L289.3,437.22 L289.3,438.02 L289.9,438.02 L289.9,440.32 L290.5,440.32 L290.5,442 L291.1,442 L291.1,443.88 L291.7,443.88 L291.7,446.3 L292.3,446.3 L292.3,446.18 L292.9,446.18 L292.9,451.38 L293.5,451.38 L293.5,454.29 L294.1,454.29 L294.1,458.11 L294.7,458.11 L294.7,461.93 L295.3,461.93 L295.3,465.85 L295.9,465.85 L295.9,468.54 L296.5,468.54 L296.5,472.24 L297.1,472.24 L297.1,477.48 L297.7,477.48 L297.7,480.46 L298.3,480.46 L298.3,486.54 L298.9,486.54 L298.9,491.37 L299.5,491.37 L299.5,494.29 L300.1,494.29 L300.1,499.87 L300.7,499.87 L300.7,504.24 L301.3,504.24 L301.3,508.82 L301.9,508.82 L301.9,511.25 L302.5,511.25 L302.5,516.11 L303.1,516.11 L303.1,518.83 L303.7,518.83 L303.7,522.39 L304.3,522.39 L304.3,526.8 L304.9,526.8 L304.9,528.55 L305.5,528.55 L305.5,533.72 L306.1,533.72 L306.1,535.61 L306.7,535.61 L306.7,536.77 L307.3,536.77 L307.3,539.54 L307.9,539.54 L307.9,540.32 L308.5,540.32 L308.5,542.3 L309.1,542.3 L309.1,544 L309.7,544 L309.7,545.3 L310.3,545.3 L310.3,545.04 L310.9,545.04 L310.9,546.28 L311.5,546.28 L311.5,547.07 L312.1,547.07 L312.1,548.03 L312.7,548.03 L312.7,549.04 L313.3,549.04 L313.3,548.87 L313.9,548.87 L313.9,549.55 L314.5,549.55 L314.5,549.53 L315.1,549.53 L315.1,549.88 L315.7,549.88 L315.7,550.03 L316.3,550.03 L316.3,550.43 L316.9,550.43 L316.9,550.86 L317.5,550.86 L317.5,551.02 L318.1,551.02 L318.1,551.15 L318.7,551.15 L318.7,551.05 L319.3,551.05 L319.3,551.06 L319.9,551.06 L319.9,551.07 L320.5,551.07 L320.5,551.16 L321.1,551.16 L321.1,551.18 L321.7,551.18 L321.7,551.22 L322.3,551.22 L322.3,551.05 L322.9,551.05 L322.9,551.24 L323.5,551.24 L323.5,551.28 L324.1,551.28 L324.1,551.22 L324.7,551.22 L324.7,551.12 L325.3,551.12 L325.3,551.2 L325.9,551.2 L325.9,551.13 L326.5,551.13 L326.5,551.2 L327.1,551.2 L327.1,551.36 L327.7,551.36 L327.7,551.31 L328.3,551.31 L328.3,551.34 L328.9,551.34 L328.9,551.37 L329.5,551.37 L329.5,551.4 L330.1,551.4 L330.1,551.36 L330.7,551.36 L330.7,551.38 L331.3,551.38 L331.3,551.39 L331.9,551.39 L331.9,551.42 L332.5,551.42 L332.5,551.41 L333.1,551.41 L333.1,551.44 L333.7,551.44 L333.7,551.37 L334.3,551.37 L334.3,551.46 L334.9,551.46 L334.9,551.44 L335.5,551.44 L335.5,551.5 L336.1,551.5 L336.1,551.41 L336.7,551.41 L336.7,551.44 L337.3,551.44 L337.3,551.43 L337.9,551.43 L337.9,551.55 L338.5,551.55 L338.5,551.58 L339.1,551.58 L339.1,551.56 L339.7,551.56 L339.7,551.54 L340.3,551.54 L340.3,551.6 L340.9,551.6 L340.9,551.61 L341.5,551.61 L341.5,551.6 L342.1,551.6 L342.1,551.58 L342.7,551.58 L342.7,551.6 L343.3,551.6 L343.3,551.62 L343.9,551.62 L343.9,551.63 L344.5,551.63 L344.5,551.65 L345.1,551.65 L345.1,551.68 L345.7,551.68 L345.7,551.72 L346.3,551.72 L346.3,551.65 L346.9,551.65 L346.9,551.72 L347.5,551.72 L347.5,551.7 L348.1,551.7 L348.1,551.72 L348.7,551.72 L348.7,551.73 L349.3,551.73 L349.3,551.74 L349.9,551.74 L349.9,551.76 L350.5,551.76 L350.5,551.77 L351.1,551.77 L351.1,551.79 L351.7,551.79 L351.7,551.8 L352.2,551.8 L352.2,552 Z" fill="#050505"/>
<path d="M220.9,540 L221.1,541.74 L221.5,547.7 L221.9,546.98 L222.7,547.53 L223.5,546.78 L224.3,546.96 L225.1,545.72 L225.9,545.4 L226.7,544.23 L227.5,544.61 L228.3,544.68 L229.1,545.01 L229.9,544.79 L230.5,543.7 L230.7,543.55 L231.5,543.03 L232.3,542.06 L233.1,542.63 L233.9,541.45 L234.7,540.93 L235.2,541.3 L235.5,540.38 L236.3,540.25 L237.1,541.35 L237.9,540.22 L238.6,540.8 L238.7,541.49 L239.5,538.69 L240.3,538.88 L240.9,537.3 L241.1,536.23 L241.9,534.43 L242.7,534.09 L243.2,532.7 L243.5,532.04 L244.3,532.39 L245,531.5 L245.1,531.11 L245.9,532.23 L246.7,534.4 L247.5,532.42 L247.8,531 L248.3,529.22 L249,525.8 L249.1,525.93 L249.9,521.2 L250.7,519.35 L251.1,517.8 L251.5,516.29 L252.3,515.74 L253.1,514.35 L253.4,513.4 L253.9,511.33 L254.7,508.98 L255.5,504.56 L255.6,504.6 L256.3,501.2 L257.1,495.92 L257.8,491.3 L257.9,489.72 L258.7,484.09 L259.5,479.59 L260,475.8 L260.3,474.87 L261.1,469.54 L261.9,465.96 L262.2,464.8 L262.7,461.69 L263.5,455.04 L264.3,450.65 L264.4,449.3 L265.1,444.34 L265.9,437.94 L266.6,433.8 L266.7,433.66 L267.5,434.83 L268.3,435.39 L268.8,436 L269.1,436.02 L269.9,434.26 L270.7,434.64 L271,433.8 L271.5,435.58 L272.3,439.32 L273.1,442.53 L273.2,442.7 L273.9,448.54 L274.7,455.33 L275,458.1 L275.5,462.08 L276.3,467.92 L276.6,469.2 L277.1,472.74 L277.9,477.18 L278.7,481.52 L278.8,482.5 L279.5,487.31 L280.3,495.35 L281,500.1 L281.1,501.17 L281.9,507.03 L282.7,511.77 L283.2,515.6 L283.5,517.9 L284.3,524.21 L285.1,529.58 L285.4,531.1 L285.9,533.78 L286.7,537.26 L287.5,541.47 L287.6,542.1 L288.3,544.22 L289.1,544.92 L289.9,547.06 L290.7,548.5 L290.9,548.8 L291.5,549.46 L292.3,549.78 L293.1,549.85 L293.9,550.17 L294.7,550.76 L295,551 L295.5,551 L296.3,551.01 L297.1,551.02 L297.9,551.03 L298.7,551.03 L299.5,551.04 L300.3,551.05 L301.1,551.05 L301.9,551.06 L302.7,551.07 L303.5,551.07 L304.3,551.08 L305.1,551.09 L305.9,551.1 L306.7,551.1 L307.5,551.11 L308.3,551.12 L309.1,551.12 L309.9,551.13 L310.7,551.14 L311.5,551.14 L312.3,551.15 L313.1,551.16 L313.9,551.17 L314.7,551.17 L315.5,551.18 L316.3,551.19 L317.1,551.19 L317.9,551.2 L318.7,551.21 L319.5,551.21 L320.3,551.22 L321.1,551.23 L321.9,551.24 L322.7,551.24 L323.5,551.25 L324.3,551.26 L325.1,551.26 L325.9,551.27 L326.7,551.28 L327.5,551.29 L328.3,551.29 L329.1,551.3 L329.9,551.31 L330.7,551.31 L331.5,551.32 L332.3,551.33 L333.1,551.33 L333.9,551.34 L334.7,551.35 L335.5,551.36 L336.3,551.36 L337.1,551.37 L337.9,551.38 L338.7,551.38 L339.5,551.39 L340.3,551.4 L341.1,551.4 L341.9,551.41 L342.7,551.42 L343.5,551.43 L344.3,551.43 L345.1,551.44 L345.9,551.45 L346.7,551.45 L347.5,551.46 L348.3,551.47 L349.1,551.47 L349.9,551.48 L350.7,551.49 L351.5,551.5 L352,551.5" fill="none" stroke="#505050" stroke-width="1.25" stroke-linejoin="round"/>
<path d="M384.9,552 L384.9,551.52 L385.5,551.52 L385.5,551.4 L386.1,551.4 L386.1,551.29 L386.7,551.29 L386.7,551.17 L387.3,551.17 L387.3,550.77 L387.9,550.77 L387.9,550.89 L388.5,550.89 L388.5,550.74 L389.1,550.74 L389.1,550.63 L389.7,550.63 L389.7,550.37 L390.3,550.37 L390.3,550.06 L390.9,550.06 L390.9,550.21 L391.5,550.21 L391.5,550.06 L392.1,550.06 L392.1,549.86 L392.7,549.86 L392.7,549.85 L393.3,549.85 L393.3,549.35 L393.9,549.35 L393.9,548.96 L394.5,548.96 L394.5,549.21 L395.1,549.21 L395.1,549.25 L395.7,549.25 L395.7,548.6 L396.3,548.6 L396.3,548.95 L396.9,548.95 L396.9,548.96 L397.5,548.96 L397.5,548.17 L398.1,548.17 L398.1,548.43 L398.7,548.43 L398.7,548.4 L399.3,548.4 L399.3,548.08 L399.9,548.08 L399.9,547.66 L400.5,547.66 L400.5,547.61 L401.1,547.61 L401.1,548.07 L401.7,548.07 L401.7,548.02 L402.3,548.02 L402.3,547.54 L402.9,547.54 L402.9,546.9 L403.5,546.9 L403.5,547.75 L404.1,547.75 L404.1,547.45 L404.7,547.45 L404.7,546.42 L405.3,546.42 L405.3,546.66 L405.9,546.66 L405.9,546.85 L406.5,546.85 L406.5,546.58 L407.1,546.58 L407.1,545.75 L407.7,545.75 L407.7,545.39 L408.3,545.39 L408.3,545.19 L408.9,545.19 L408.9,543.63 L409.5,543.63 L409.5,542.89 L410.1,542.89 L410.1,542.12 L410.7,542.12 L410.7,542.47 L411.3,542.47 L411.3,541.05 L411.9,541.05 L411.9,540.72 L412.5,540.72 L412.5,539.65 L413.1,539.65 L413.1,539.23 L413.7,539.23 L413.7,537.8 L414.3,537.8 L414.3,536.89 L414.9,536.89 L414.9,538.29 L415.5,538.29 L415.5,536.48 L416.1,536.48 L416.1,535.23 L416.7,535.23 L416.7,535.78 L417.3,535.78 L417.3,535.46 L417.9,535.46 L417.9,533.35 L418.5,533.35 L418.5,533.52 L419.1,533.52 L419.1,532.21 L419.7,532.21 L419.7,531.79 L420.3,531.79 L420.3,529.8 L420.9,529.8 L420.9,528.89 L421.5,528.89 L421.5,529.12 L422.1,529.12 L422.1,527.1 L422.7,527.1 L422.7,524.58 L423.3,524.58 L423.3,523.03 L423.9,523.03 L423.9,520.88 L424.5,520.88 L424.5,520.41 L425.1,520.41 L425.1,518.21 L425.7,518.21 L425.7,517.67 L426.3,517.67 L426.3,515.79 L426.9,515.79 L426.9,514.33 L427.5,514.33 L427.5,513.03 L428.1,513.03 L428.1,510.07 L428.7,510.07 L428.7,506.9 L429.3,506.9 L429.3,504.75 L429.9,504.75 L429.9,502.1 L430.5,502.1 L430.5,499.24 L431.1,499.24 L431.1,496.54 L431.7,496.54 L431.7,494.62 L432.3,494.62 L432.3,491.61 L432.9,491.61 L432.9,487.22 L433.5,487.22 L433.5,484.55 L434.1,484.55 L434.1,473.83 L434.7,473.83 L434.7,459.98 L435.3,459.98 L435.3,460.57 L435.9,460.57 L435.9,459.54 L436.5,459.54 L436.5,458.26 L437.1,458.26 L437.1,458.42 L437.7,458.42 L437.7,453.59 L438.3,453.59 L438.3,450.8 L438.9,450.8 L438.9,447.5 L439.5,447.5 L439.5,444.55 L440.1,444.55 L440.1,440.4 L440.7,440.4 L440.7,436.21 L441.3,436.21 L441.3,432.7 L441.9,432.7 L441.9,432.8 L442.5,432.8 L442.5,436.05 L443.1,436.05 L443.1,437.71 L443.7,437.71 L443.7,437.8 L444.3,437.8 L444.3,438.92 L444.9,438.92 L444.9,441.12 L445.5,441.12 L445.5,442.97 L446.1,442.97 L446.1,445.67 L446.7,445.67 L446.7,447.3 L447.3,447.3 L447.3,448.81 L447.9,448.81 L447.9,448.72 L448.5,448.72 L448.5,451.38 L449.1,451.38 L449.1,451.68 L449.7,451.68 L449.7,452.01 L450.3,452.01 L450.3,453.07 L450.9,453.07 L450.9,451.56 L451.5,451.56 L451.5,452.26 L452.1,452.26 L452.1,455.91 L452.7,455.91 L452.7,459.57 L453.3,459.57 L453.3,462.41 L453.9,462.41 L453.9,464.96 L454.5,464.96 L454.5,468.88 L455.1,468.88 L455.1,472.47 L455.7,472.47 L455.7,474.34 L456.3,474.34 L456.3,478.14 L456.9,478.14 L456.9,481.26 L457.5,481.26 L457.5,484.21 L458.1,484.21 L458.1,488.31 L458.7,488.31 L458.7,490.9 L459.3,490.9 L459.3,494.36 L459.9,494.36 L459.9,497.42 L460.5,497.42 L460.5,501.85 L461.1,501.85 L461.1,503.32 L461.7,503.32 L461.7,507.81 L462.3,507.81 L462.3,509.6 L462.9,509.6 L462.9,512.03 L463.5,512.03 L463.5,516.82 L464.1,516.82 L464.1,518.13 L464.7,518.13 L464.7,521.58 L465.3,521.58 L465.3,523.47 L465.9,523.47 L465.9,525.53 L466.5,525.53 L466.5,526 L467.1,526 L467.1,528.72 L467.7,528.72 L467.7,529.65 L468.3,529.65 L468.3,532.98 L468.9,532.98 L468.9,534.42 L469.5,534.42 L469.5,535.62 L470.1,535.62 L470.1,536.87 L470.7,536.87 L470.7,538.14 L471.3,538.14 L471.3,540.12 L471.9,540.12 L471.9,540.48 L472.5,540.48 L472.5,541.81 L473.1,541.81 L473.1,541.78 L473.7,541.78 L473.7,543 L474.3,543 L474.3,543.59 L474.9,543.59 L474.9,545.94 L475.5,545.94 L475.5,546.36 L476.1,546.36 L476.1,546.29 L476.7,546.29 L476.7,547.85 L477.3,547.85 L477.3,547.71 L477.9,547.71 L477.9,548.46 L478.5,548.46 L478.5,548.81 L479.1,548.81 L479.1,549.53 L479.7,549.53 L479.7,550.28 L480.3,550.28 L480.3,550.2 L480.9,550.2 L480.9,550.29 L481.5,550.29 L481.5,550.6 L482.1,550.6 L482.1,550.7 L482.7,550.7 L482.7,551.04 L483.3,551.04 L483.3,550.99 L483.9,550.99 L483.9,551.35 L484.5,551.35 L484.5,551.17 L485.1,551.17 L485.1,551.35 L485.7,551.35 L485.7,551.32 L486.3,551.32 L486.3,551.24 L486.9,551.24 L486.9,551.31 L487.5,551.31 L487.5,551.28 L488.1,551.28 L488.1,551.29 L488.7,551.29 L488.7,551.29 L489.3,551.29 L489.3,551.33 L489.9,551.33 L489.9,551.44 L490.5,551.44 L490.5,551.45 L491.1,551.45 L491.1,551.45 L491.7,551.45 L491.7,551.32 L492.3,551.32 L492.3,551.37 L492.9,551.37 L492.9,551.48 L493.5,551.48 L493.5,551.35 L494.1,551.35 L494.1,551.47 L494.7,551.47 L494.7,551.42 L495.3,551.42 L495.3,551.52 L495.9,551.52 L495.9,551.38 L496.5,551.38 L496.5,551.52 L497.1,551.52 L497.1,551.47 L497.7,551.47 L497.7,551.45 L498.3,551.45 L498.3,551.43 L498.9,551.43 L498.9,551.56 L499.5,551.56 L499.5,551.54 L500.1,551.54 L500.1,551.5 L500.7,551.5 L500.7,551.55 L501.3,551.55 L501.3,551.61 L501.9,551.61 L501.9,551.54 L502.5,551.54 L502.5,551.59 L503.1,551.59 L503.1,551.55 L503.7,551.55 L503.7,551.57 L504.3,551.57 L504.3,551.64 L504.9,551.64 L504.9,551.65 L505.5,551.65 L505.5,551.6 L506.1,551.6 L506.1,551.6 L506.7,551.6 L506.7,551.61 L507.3,551.61 L507.3,551.68 L507.9,551.68 L507.9,551.68 L508.5,551.68 L508.5,551.67 L509.1,551.67 L509.1,551.67 L509.7,551.67 L509.7,551.72 L510.3,551.72 L510.3,551.74 L510.9,551.74 L510.9,551.71 L511.5,551.71 L511.5,551.72 L512.1,551.72 L512.1,551.73 L512.7,551.73 L512.7,551.74 L513.3,551.74 L513.3,551.75 L513.9,551.75 L513.9,551.77 L514.5,551.77 L514.5,551.78 L515.1,551.78 L515.1,551.79 L515.6,551.79 L515.6,552 Z" fill="#050505"/>
<path d="M384.8,540.6 L385.1,540.6 L385.9,538.71 L386.7,536.54 L387.5,534.8 L387.6,535.4 L388.3,535.12 L389.1,533.73 L389.9,533.1 L390.7,535.54 L391.5,536.39 L391.7,537.7 L392.3,535.54 L393.1,531.05 L393.9,528.34 L394.5,525 L394.7,525.95 L395.5,526.47 L396.3,526.8 L397.1,529.6 L397.9,530.01 L398,530.2 L398.7,529.62 L399.5,527.11 L400.3,526.1 L401.1,524.48 L401.9,524.59 L402.7,522.71 L403.5,521.29 L403.8,521.5 L404.3,520.03 L405.1,518.45 L405.9,515.4 L406.1,515.8 L406.7,513.79 L407.5,510.93 L407.8,510 L408.3,507.68 L409.1,503.2 L409.5,502 L409.9,500.87 L410.7,498.02 L411.5,495.07 L412.3,491.05 L412.9,489.1 L413.1,488.7 L413.9,484.97 L414.7,482.51 L415.5,478.14 L416.3,475.8 L417.1,472.74 L417.9,469.15 L418.7,464.59 L419.5,460.89 L419.6,460.4 L420.3,457.62 L421.1,454.4 L421.8,451.5 L421.9,450.14 L422.7,447.84 L423.5,442.5 L424,440.5 L424.3,439.93 L425.1,439.78 L425.9,440.05 L426.2,440.5 L426.7,444.07 L427.3,447.1 L427.5,444.45 L428.3,437.37 L428.9,432.7 L429.1,435.27 L429.9,443.21 L430.6,451.5 L430.7,451.34 L431.5,458.02 L432.3,463.61 L432.8,467 L433.1,469.75 L433.9,477.31 L434.7,483.47 L435,486.9 L435.5,492.59 L436.3,500.35 L437.1,507.18 L437.2,509 L437.9,513.01 L438.7,519.03 L439.5,524.4 L440.3,529.24 L441.1,533.68 L441.7,537.7 L441.9,537.52 L442.7,540.05 L443.5,541.57 L444.3,544.4 L445,546 L445.1,546.76 L445.9,546.54 L446.7,548.1 L447.5,549.18 L448.3,549.9 L449.1,549.88 L449.9,550.43 L450.7,550.64 L451,550.5 L451.5,550.5 L452.3,550.6 L453.1,550.85 L453.9,550.81 L454.7,550.85 L455.5,551.11 L456.3,551.05 L457.1,551.14 L457.7,551.2 L457.9,551.2 L458.7,551.21 L459.5,551.21 L460.3,551.21 L461.1,551.22 L461.9,551.22 L462.7,551.23 L463.5,551.23 L464.3,551.23 L465.1,551.24 L465.9,551.24 L466.7,551.25 L467.5,551.25 L468.3,551.25 L469.1,551.26 L469.9,551.26 L470.7,551.27 L471.5,551.27 L472.3,551.28 L473.1,551.28 L473.9,551.28 L474.7,551.29 L475.5,551.29 L476.3,551.3 L477.1,551.3 L477.9,551.3 L478.7,551.31 L479.5,551.31 L480.3,551.32 L481.1,551.32 L481.9,551.32 L482.7,551.33 L483.5,551.33 L484.3,551.34 L485.1,551.34 L485.9,551.35 L486.7,551.35 L487.5,551.35 L488.3,551.36 L489.1,551.36 L489.9,551.37 L490.7,551.37 L491.5,551.37 L492.3,551.38 L493.1,551.38 L493.9,551.39 L494.7,551.39 L495.5,551.39 L496.3,551.4 L497.1,551.4 L497.9,551.41 L498.7,551.41 L499.5,551.42 L500.3,551.42 L501.1,551.42 L501.9,551.43 L502.7,551.43 L503.5,551.44 L504.3,551.44 L505.1,551.44 L505.9,551.45 L506.7,551.45 L507.5,551.46 L508.3,551.46 L509.1,551.46 L509.9,551.47 L510.7,551.47 L511.5,551.48 L512.3,551.48 L513.1,551.49 L513.9,551.49 L514.7,551.49" fill="none" stroke="#505050" stroke-width="1.25" stroke-linejoin="round"/>
<rect x="56.5" y="426.3" width="132.4" height="125.9" fill="none" stroke="#111" stroke-width="1.2"/>
<line x1="53" y1="552" x2="56.5" y2="552" stroke="#111" stroke-width="1.1"/>
<text x="49.1" y="554.1" font-size="5.8" text-anchor="end" font-weight="normal" fill="#111" letter-spacing="-0.1">0</text>
<line x1="54.9" y1="545.96" x2="56.5" y2="545.96" stroke="#111" stroke-width="1"/>
<line x1="54.9" y1="539.91" x2="56.5" y2="539.91" stroke="#111" stroke-width="1"/>
<line x1="54.9" y1="533.87" x2="56.5" y2="533.87" stroke="#111" stroke-width="1"/>
<line x1="53" y1="527.83" x2="56.5" y2="527.83" stroke="#111" stroke-width="1.1"/>
<text x="49.1" y="529.93" font-size="5.8" text-anchor="end" font-weight="normal" fill="#111" letter-spacing="-0.1">20</text>
<line x1="54.9" y1="521.79" x2="56.5" y2="521.79" stroke="#111" stroke-width="1"/>
<line x1="54.9" y1="515.75" x2="56.5" y2="515.75" stroke="#111" stroke-width="1"/>
<line x1="54.9" y1="509.7" x2="56.5" y2="509.7" stroke="#111" stroke-width="1"/>
<line x1="53" y1="503.66" x2="56.5" y2="503.66" stroke="#111" stroke-width="1.1"/>
<text x="49.1" y="505.76" font-size="5.8" text-anchor="end" font-weight="normal" fill="#111" letter-spacing="-0.1">40</text>
<line x1="54.9" y1="497.62" x2="56.5" y2="497.62" stroke="#111" stroke-width="1"/>
<line x1="54.9" y1="491.57" x2="56.5" y2="491.57" stroke="#111" stroke-width="1"/>
<line x1="54.9" y1="485.53" x2="56.5" y2="485.53" stroke="#111" stroke-width="1"/>
<line x1="53" y1="479.49" x2="56.5" y2="479.49" stroke="#111" stroke-width="1.1"/>
<text x="49.1" y="481.59" font-size="5.8" text-anchor="end" font-weight="normal" fill="#111" letter-spacing="-0.1">60</text>
<line x1="54.9" y1="473.45" x2="56.5" y2="473.45" stroke="#111" stroke-width="1"/>
<line x1="54.9" y1="467.4" x2="56.5" y2="467.4" stroke="#111" stroke-width="1"/>
<line x1="54.9" y1="461.36" x2="56.5" y2="461.36" stroke="#111" stroke-width="1"/>
<line x1="53" y1="455.32" x2="56.5" y2="455.32" stroke="#111" stroke-width="1.1"/>
<text x="49.1" y="457.42" font-size="5.8" text-anchor="end" font-weight="normal" fill="#111" letter-spacing="-0.1">80</text>
<line x1="54.9" y1="449.28" x2="56.5" y2="449.28" stroke="#111" stroke-width="1"/>
<line x1="54.9" y1="443.24" x2="56.5" y2="443.24" stroke="#111" stroke-width="1"/>
<line x1="54.9" y1="437.19" x2="56.5" y2="437.19" stroke="#111" stroke-width="1"/>
<line x1="53" y1="431.15" x2="56.5" y2="431.15" stroke="#111" stroke-width="1.1"/>
<text x="49.1" y="433.25" font-size="5.8" text-anchor="end" font-weight="normal" fill="#111" letter-spacing="-0.1">100</text>
<line x1="61" y1="552.2" x2="61" y2="553.8" stroke="#111" stroke-width="0.9"/>
<line x1="65" y1="552.2" x2="65" y2="553.8" stroke="#111" stroke-width="0.9"/>
<line x1="73" y1="552.2" x2="73" y2="553.8" stroke="#111" stroke-width="0.9"/>
<line x1="77" y1="552.2" x2="77" y2="553.8" stroke="#111" stroke-width="0.9"/>
<line x1="81" y1="552.2" x2="81" y2="553.8" stroke="#111" stroke-width="0.9"/>
<line x1="69.1" y1="552.2" x2="69.1" y2="555.4" stroke="#111" stroke-width="1"/>
<line x1="94.44" y1="552.2" x2="94.44" y2="553.8" stroke="#111" stroke-width="0.9"/>
<line x1="100.02" y1="552.2" x2="100.02" y2="553.8" stroke="#111" stroke-width="0.9"/>
<line x1="103.99" y1="552.2" x2="103.99" y2="553.8" stroke="#111" stroke-width="0.9"/>
<line x1="107.06" y1="552.2" x2="107.06" y2="553.8" stroke="#111" stroke-width="0.9"/>
<line x1="109.57" y1="552.2" x2="109.57" y2="553.8" stroke="#111" stroke-width="0.9"/>
<line x1="111.69" y1="552.2" x2="111.69" y2="553.8" stroke="#111" stroke-width="0.9"/>
<line x1="113.53" y1="552.2" x2="113.53" y2="553.8" stroke="#111" stroke-width="0.9"/>
<line x1="115.15" y1="552.2" x2="115.15" y2="553.8" stroke="#111" stroke-width="0.9"/>
<line x1="125.63" y1="552.2" x2="125.63" y2="553.8" stroke="#111" stroke-width="0.9"/>
<line x1="130.91" y1="552.2" x2="130.91" y2="553.8" stroke="#111" stroke-width="0.9"/>
<line x1="134.66" y1="552.2" x2="134.66" y2="553.8" stroke="#111" stroke-width="0.9"/>
<line x1="137.57" y1="552.2" x2="137.57" y2="553.8" stroke="#111" stroke-width="0.9"/>
<line x1="139.94" y1="552.2" x2="139.94" y2="553.8" stroke="#111" stroke-width="0.9"/>
<line x1="141.95" y1="552.2" x2="141.95" y2="553.8" stroke="#111" stroke-width="0.9"/>
<line x1="143.69" y1="552.2" x2="143.69" y2="553.8" stroke="#111" stroke-width="0.9"/>
<line x1="145.23" y1="552.2" x2="145.23" y2="553.8" stroke="#111" stroke-width="0.9"/>
<line x1="155.57" y1="552.2" x2="155.57" y2="553.8" stroke="#111" stroke-width="0.9"/>
<line x1="160.82" y1="552.2" x2="160.82" y2="553.8" stroke="#111" stroke-width="0.9"/>
<line x1="164.54" y1="552.2" x2="164.54" y2="553.8" stroke="#111" stroke-width="0.9"/>
<line x1="167.43" y1="552.2" x2="167.43" y2="553.8" stroke="#111" stroke-width="0.9"/>
<line x1="169.79" y1="552.2" x2="169.79" y2="553.8" stroke="#111" stroke-width="0.9"/>
<line x1="171.78" y1="552.2" x2="171.78" y2="553.8" stroke="#111" stroke-width="0.9"/>
<line x1="173.51" y1="552.2" x2="173.51" y2="553.8" stroke="#111" stroke-width="0.9"/>
<line x1="175.04" y1="552.2" x2="175.04" y2="553.8" stroke="#111" stroke-width="0.9"/>
<line x1="84.9" y1="552.2" x2="84.9" y2="555.4" stroke="#111" stroke-width="1"/>
<line x1="116.6" y1="552.2" x2="116.6" y2="555.4" stroke="#111" stroke-width="1"/>
<line x1="146.6" y1="552.2" x2="146.6" y2="555.4" stroke="#111" stroke-width="1"/>
<line x1="176.4" y1="552.2" x2="176.4" y2="555.4" stroke="#111" stroke-width="1"/>
<text x="79.4" y="564" font-size="6.2" text-anchor="start" fill="#222" style="stroke-width:0.15px">10<tspan font-size="4.6" dy="-1.9">2</tspan></text>
<text x="111.7" y="564" font-size="6.2" text-anchor="start" fill="#222" style="stroke-width:0.15px">10<tspan font-size="4.6" dy="-1.9">3</tspan></text>
<text x="141.6" y="564" font-size="6.2" text-anchor="start" fill="#222" style="stroke-width:0.15px">10<tspan font-size="4.6" dy="-1.9">4</tspan></text>
<text x="171.6" y="564" font-size="6.2" text-anchor="start" fill="#222" style="stroke-width:0.15px">10<tspan font-size="4.6" dy="-1.9">5</tspan></text>
<rect x="220.3" y="426.2" width="132.5" height="126" fill="none" stroke="#111" stroke-width="1.2"/>
<line x1="216.8" y1="552" x2="220.3" y2="552" stroke="#111" stroke-width="1.1"/>
<text x="212.9" y="554.1" font-size="5.8" text-anchor="end" font-weight="normal" fill="#111" letter-spacing="-0.1">0</text>
<line x1="218.7" y1="545.96" x2="220.3" y2="545.96" stroke="#111" stroke-width="1"/>
<line x1="218.7" y1="539.91" x2="220.3" y2="539.91" stroke="#111" stroke-width="1"/>
<line x1="218.7" y1="533.87" x2="220.3" y2="533.87" stroke="#111" stroke-width="1"/>
<line x1="216.8" y1="527.83" x2="220.3" y2="527.83" stroke="#111" stroke-width="1.1"/>
<text x="212.9" y="529.93" font-size="5.8" text-anchor="end" font-weight="normal" fill="#111" letter-spacing="-0.1">20</text>
<line x1="218.7" y1="521.79" x2="220.3" y2="521.79" stroke="#111" stroke-width="1"/>
<line x1="218.7" y1="515.75" x2="220.3" y2="515.75" stroke="#111" stroke-width="1"/>
<line x1="218.7" y1="509.7" x2="220.3" y2="509.7" stroke="#111" stroke-width="1"/>
<line x1="216.8" y1="503.66" x2="220.3" y2="503.66" stroke="#111" stroke-width="1.1"/>
<text x="212.9" y="505.76" font-size="5.8" text-anchor="end" font-weight="normal" fill="#111" letter-spacing="-0.1">40</text>
<line x1="218.7" y1="497.62" x2="220.3" y2="497.62" stroke="#111" stroke-width="1"/>
<line x1="218.7" y1="491.57" x2="220.3" y2="491.57" stroke="#111" stroke-width="1"/>
<line x1="218.7" y1="485.53" x2="220.3" y2="485.53" stroke="#111" stroke-width="1"/>
<line x1="216.8" y1="479.49" x2="220.3" y2="479.49" stroke="#111" stroke-width="1.1"/>
<text x="212.9" y="481.59" font-size="5.8" text-anchor="end" font-weight="normal" fill="#111" letter-spacing="-0.1">60</text>
<line x1="218.7" y1="473.45" x2="220.3" y2="473.45" stroke="#111" stroke-width="1"/>
<line x1="218.7" y1="467.4" x2="220.3" y2="467.4" stroke="#111" stroke-width="1"/>
<line x1="218.7" y1="461.36" x2="220.3" y2="461.36" stroke="#111" stroke-width="1"/>
<line x1="216.8" y1="455.32" x2="220.3" y2="455.32" stroke="#111" stroke-width="1.1"/>
<text x="212.9" y="457.42" font-size="5.8" text-anchor="end" font-weight="normal" fill="#111" letter-spacing="-0.1">80</text>
<line x1="218.7" y1="449.28" x2="220.3" y2="449.28" stroke="#111" stroke-width="1"/>
<line x1="218.7" y1="443.24" x2="220.3" y2="443.24" stroke="#111" stroke-width="1"/>
<line x1="218.7" y1="437.19" x2="220.3" y2="437.19" stroke="#111" stroke-width="1"/>
<line x1="216.8" y1="431.15" x2="220.3" y2="431.15" stroke="#111" stroke-width="1.1"/>
<text x="212.9" y="433.25" font-size="5.8" text-anchor="end" font-weight="normal" fill="#111" letter-spacing="-0.1">100</text>
<line x1="224.8" y1="552.2" x2="224.8" y2="553.8" stroke="#111" stroke-width="0.9"/>
<line x1="228.8" y1="552.2" x2="228.8" y2="553.8" stroke="#111" stroke-width="0.9"/>
<line x1="236.8" y1="552.2" x2="236.8" y2="553.8" stroke="#111" stroke-width="0.9"/>
<line x1="240.8" y1="552.2" x2="240.8" y2="553.8" stroke="#111" stroke-width="0.9"/>
<line x1="244.8" y1="552.2" x2="244.8" y2="553.8" stroke="#111" stroke-width="0.9"/>
<line x1="232.9" y1="552.2" x2="232.9" y2="555.4" stroke="#111" stroke-width="1"/>
<line x1="258.24" y1="552.2" x2="258.24" y2="553.8" stroke="#111" stroke-width="0.9"/>
<line x1="263.82" y1="552.2" x2="263.82" y2="553.8" stroke="#111" stroke-width="0.9"/>
<line x1="267.79" y1="552.2" x2="267.79" y2="553.8" stroke="#111" stroke-width="0.9"/>
<line x1="270.86" y1="552.2" x2="270.86" y2="553.8" stroke="#111" stroke-width="0.9"/>
<line x1="273.37" y1="552.2" x2="273.37" y2="553.8" stroke="#111" stroke-width="0.9"/>
<line x1="275.49" y1="552.2" x2="275.49" y2="553.8" stroke="#111" stroke-width="0.9"/>
<line x1="277.33" y1="552.2" x2="277.33" y2="553.8" stroke="#111" stroke-width="0.9"/>
<line x1="278.95" y1="552.2" x2="278.95" y2="553.8" stroke="#111" stroke-width="0.9"/>
<line x1="289.43" y1="552.2" x2="289.43" y2="553.8" stroke="#111" stroke-width="0.9"/>
<line x1="294.71" y1="552.2" x2="294.71" y2="553.8" stroke="#111" stroke-width="0.9"/>
<line x1="298.46" y1="552.2" x2="298.46" y2="553.8" stroke="#111" stroke-width="0.9"/>
<line x1="301.37" y1="552.2" x2="301.37" y2="553.8" stroke="#111" stroke-width="0.9"/>
<line x1="303.74" y1="552.2" x2="303.74" y2="553.8" stroke="#111" stroke-width="0.9"/>
<line x1="305.75" y1="552.2" x2="305.75" y2="553.8" stroke="#111" stroke-width="0.9"/>
<line x1="307.49" y1="552.2" x2="307.49" y2="553.8" stroke="#111" stroke-width="0.9"/>
<line x1="309.03" y1="552.2" x2="309.03" y2="553.8" stroke="#111" stroke-width="0.9"/>
<line x1="319.37" y1="552.2" x2="319.37" y2="553.8" stroke="#111" stroke-width="0.9"/>
<line x1="324.62" y1="552.2" x2="324.62" y2="553.8" stroke="#111" stroke-width="0.9"/>
<line x1="328.34" y1="552.2" x2="328.34" y2="553.8" stroke="#111" stroke-width="0.9"/>
<line x1="331.23" y1="552.2" x2="331.23" y2="553.8" stroke="#111" stroke-width="0.9"/>
<line x1="333.59" y1="552.2" x2="333.59" y2="553.8" stroke="#111" stroke-width="0.9"/>
<line x1="335.58" y1="552.2" x2="335.58" y2="553.8" stroke="#111" stroke-width="0.9"/>
<line x1="337.31" y1="552.2" x2="337.31" y2="553.8" stroke="#111" stroke-width="0.9"/>
<line x1="338.84" y1="552.2" x2="338.84" y2="553.8" stroke="#111" stroke-width="0.9"/>
<line x1="248.7" y1="552.2" x2="248.7" y2="555.4" stroke="#111" stroke-width="1"/>
<line x1="280.4" y1="552.2" x2="280.4" y2="555.4" stroke="#111" stroke-width="1"/>
<line x1="310.4" y1="552.2" x2="310.4" y2="555.4" stroke="#111" stroke-width="1"/>
<line x1="340.2" y1="552.2" x2="340.2" y2="555.4" stroke="#111" stroke-width="1"/>
<text x="243.2" y="564" font-size="6.2" text-anchor="start" fill="#222" style="stroke-width:0.15px">10<tspan font-size="4.6" dy="-1.9">2</tspan></text>
<text x="275.5" y="564" font-size="6.2" text-anchor="start" fill="#222" style="stroke-width:0.15px">10<tspan font-size="4.6" dy="-1.9">3</tspan></text>
<text x="305.4" y="564" font-size="6.2" text-anchor="start" fill="#222" style="stroke-width:0.15px">10<tspan font-size="4.6" dy="-1.9">4</tspan></text>
<text x="335.4" y="564" font-size="6.2" text-anchor="start" fill="#222" style="stroke-width:0.15px">10<tspan font-size="4.6" dy="-1.9">5</tspan></text>
<rect x="384.3" y="426.2" width="131.9" height="126" fill="none" stroke="#111" stroke-width="1.2"/>
<line x1="380.8" y1="552" x2="384.3" y2="552" stroke="#111" stroke-width="1.1"/>
<text x="376.9" y="554.1" font-size="5.8" text-anchor="end" font-weight="normal" fill="#111" letter-spacing="-0.1">0</text>
<line x1="382.7" y1="545.96" x2="384.3" y2="545.96" stroke="#111" stroke-width="1"/>
<line x1="382.7" y1="539.91" x2="384.3" y2="539.91" stroke="#111" stroke-width="1"/>
<line x1="382.7" y1="533.87" x2="384.3" y2="533.87" stroke="#111" stroke-width="1"/>
<line x1="380.8" y1="527.83" x2="384.3" y2="527.83" stroke="#111" stroke-width="1.1"/>
<text x="376.9" y="529.93" font-size="5.8" text-anchor="end" font-weight="normal" fill="#111" letter-spacing="-0.1">20</text>
<line x1="382.7" y1="521.79" x2="384.3" y2="521.79" stroke="#111" stroke-width="1"/>
<line x1="382.7" y1="515.75" x2="384.3" y2="515.75" stroke="#111" stroke-width="1"/>
<line x1="382.7" y1="509.7" x2="384.3" y2="509.7" stroke="#111" stroke-width="1"/>
<line x1="380.8" y1="503.66" x2="384.3" y2="503.66" stroke="#111" stroke-width="1.1"/>
<text x="376.9" y="505.76" font-size="5.8" text-anchor="end" font-weight="normal" fill="#111" letter-spacing="-0.1">40</text>
<line x1="382.7" y1="497.62" x2="384.3" y2="497.62" stroke="#111" stroke-width="1"/>
<line x1="382.7" y1="491.57" x2="384.3" y2="491.57" stroke="#111" stroke-width="1"/>
<line x1="382.7" y1="485.53" x2="384.3" y2="485.53" stroke="#111" stroke-width="1"/>
<line x1="380.8" y1="479.49" x2="384.3" y2="479.49" stroke="#111" stroke-width="1.1"/>
<text x="376.9" y="481.59" font-size="5.8" text-anchor="end" font-weight="normal" fill="#111" letter-spacing="-0.1">60</text>
<line x1="382.7" y1="473.45" x2="384.3" y2="473.45" stroke="#111" stroke-width="1"/>
<line x1="382.7" y1="467.4" x2="384.3" y2="467.4" stroke="#111" stroke-width="1"/>
<line x1="382.7" y1="461.36" x2="384.3" y2="461.36" stroke="#111" stroke-width="1"/>
<line x1="380.8" y1="455.32" x2="384.3" y2="455.32" stroke="#111" stroke-width="1.1"/>
<text x="376.9" y="457.42" font-size="5.8" text-anchor="end" font-weight="normal" fill="#111" letter-spacing="-0.1">80</text>
<line x1="382.7" y1="449.28" x2="384.3" y2="449.28" stroke="#111" stroke-width="1"/>
<line x1="382.7" y1="443.24" x2="384.3" y2="443.24" stroke="#111" stroke-width="1"/>
<line x1="382.7" y1="437.19" x2="384.3" y2="437.19" stroke="#111" stroke-width="1"/>
<line x1="380.8" y1="431.15" x2="384.3" y2="431.15" stroke="#111" stroke-width="1.1"/>
<text x="376.9" y="433.25" font-size="5.8" text-anchor="end" font-weight="normal" fill="#111" letter-spacing="-0.1">100</text>
<line x1="388.8" y1="552.2" x2="388.8" y2="553.8" stroke="#111" stroke-width="0.9"/>
<line x1="392.8" y1="552.2" x2="392.8" y2="553.8" stroke="#111" stroke-width="0.9"/>
<line x1="400.8" y1="552.2" x2="400.8" y2="553.8" stroke="#111" stroke-width="0.9"/>
<line x1="404.8" y1="552.2" x2="404.8" y2="553.8" stroke="#111" stroke-width="0.9"/>
<line x1="408.8" y1="552.2" x2="408.8" y2="553.8" stroke="#111" stroke-width="0.9"/>
<line x1="396.9" y1="552.2" x2="396.9" y2="555.4" stroke="#111" stroke-width="1"/>
<line x1="422.24" y1="552.2" x2="422.24" y2="553.8" stroke="#111" stroke-width="0.9"/>
<line x1="427.82" y1="552.2" x2="427.82" y2="553.8" stroke="#111" stroke-width="0.9"/>
<line x1="431.79" y1="552.2" x2="431.79" y2="553.8" stroke="#111" stroke-width="0.9"/>
<line x1="434.86" y1="552.2" x2="434.86" y2="553.8" stroke="#111" stroke-width="0.9"/>
<line x1="437.37" y1="552.2" x2="437.37" y2="553.8" stroke="#111" stroke-width="0.9"/>
<line x1="439.49" y1="552.2" x2="439.49" y2="553.8" stroke="#111" stroke-width="0.9"/>
<line x1="441.33" y1="552.2" x2="441.33" y2="553.8" stroke="#111" stroke-width="0.9"/>
<line x1="442.95" y1="552.2" x2="442.95" y2="553.8" stroke="#111" stroke-width="0.9"/>
<line x1="453.43" y1="552.2" x2="453.43" y2="553.8" stroke="#111" stroke-width="0.9"/>
<line x1="458.71" y1="552.2" x2="458.71" y2="553.8" stroke="#111" stroke-width="0.9"/>
<line x1="462.46" y1="552.2" x2="462.46" y2="553.8" stroke="#111" stroke-width="0.9"/>
<line x1="465.37" y1="552.2" x2="465.37" y2="553.8" stroke="#111" stroke-width="0.9"/>
<line x1="467.74" y1="552.2" x2="467.74" y2="553.8" stroke="#111" stroke-width="0.9"/>
<line x1="469.75" y1="552.2" x2="469.75" y2="553.8" stroke="#111" stroke-width="0.9"/>
<line x1="471.49" y1="552.2" x2="471.49" y2="553.8" stroke="#111" stroke-width="0.9"/>
<line x1="473.03" y1="552.2" x2="473.03" y2="553.8" stroke="#111" stroke-width="0.9"/>
<line x1="483.37" y1="552.2" x2="483.37" y2="553.8" stroke="#111" stroke-width="0.9"/>
<line x1="488.62" y1="552.2" x2="488.62" y2="553.8" stroke="#111" stroke-width="0.9"/>
<line x1="492.34" y1="552.2" x2="492.34" y2="553.8" stroke="#111" stroke-width="0.9"/>
<line x1="495.23" y1="552.2" x2="495.23" y2="553.8" stroke="#111" stroke-width="0.9"/>
<line x1="497.59" y1="552.2" x2="497.59" y2="553.8" stroke="#111" stroke-width="0.9"/>
<line x1="499.58" y1="552.2" x2="499.58" y2="553.8" stroke="#111" stroke-width="0.9"/>
<line x1="501.31" y1="552.2" x2="501.31" y2="553.8" stroke="#111" stroke-width="0.9"/>
<line x1="502.84" y1="552.2" x2="502.84" y2="553.8" stroke="#111" stroke-width="0.9"/>
<line x1="412.7" y1="552.2" x2="412.7" y2="555.4" stroke="#111" stroke-width="1"/>
<line x1="444.4" y1="552.2" x2="444.4" y2="555.4" stroke="#111" stroke-width="1"/>
<line x1="474.4" y1="552.2" x2="474.4" y2="555.4" stroke="#111" stroke-width="1"/>
<line x1="504.2" y1="552.2" x2="504.2" y2="555.4" stroke="#111" stroke-width="1"/>
<text x="407.2" y="564" font-size="6.2" text-anchor="start" fill="#222" style="stroke-width:0.15px">10<tspan font-size="4.6" dy="-1.9">2</tspan></text>
<text x="439.5" y="564" font-size="6.2" text-anchor="start" fill="#222" style="stroke-width:0.15px">10<tspan font-size="4.6" dy="-1.9">3</tspan></text>
<text x="469.4" y="564" font-size="6.2" text-anchor="start" fill="#222" style="stroke-width:0.15px">10<tspan font-size="4.6" dy="-1.9">4</tspan></text>
<text x="499.4" y="564" font-size="6.2" text-anchor="start" fill="#222" style="stroke-width:0.15px">10<tspan font-size="4.6" dy="-1.9">5</tspan></text>
<text x="124.9" y="414" font-size="13" text-anchor="middle" font-weight="normal" fill="#111" >B6</text>
<text x="287.4" y="414" font-size="13" text-anchor="middle" font-weight="normal" fill="#111" >BALB/c</text>
<text x="449.7" y="414" font-size="13" text-anchor="middle" font-weight="normal" fill="#111" >DBA/2</text>
<line x1="53.8" y1="578.2" x2="213.5" y2="578.2" stroke="#2a2a2a" stroke-width="1.4"/>
<text x="288.9" y="582.8" font-size="13.3" text-anchor="middle" font-weight="normal" fill="#111" >BTLA staining by BYK-1</text>
<line x1="363.8" y1="578.2" x2="506" y2="578.2" stroke="#2a2a2a" stroke-width="1.4"/>
<path d="M505,574.7 L512.3,578.2 L505,581.7 Z" fill="#111"/>
</svg>
</body></html>
